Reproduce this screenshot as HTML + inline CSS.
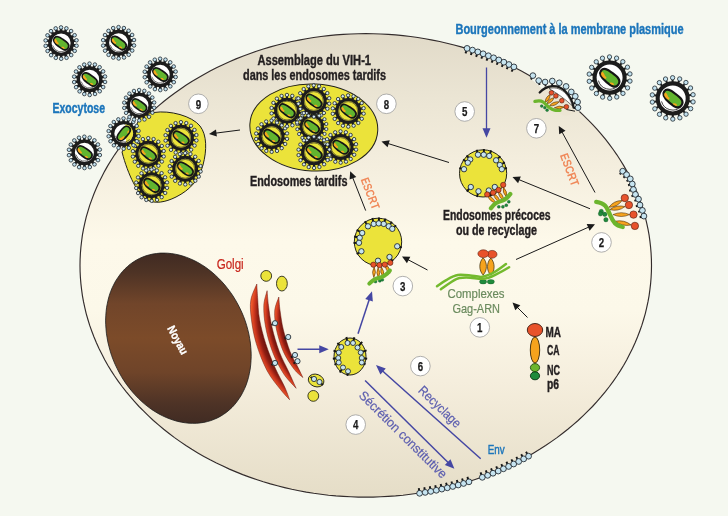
<!DOCTYPE html><html><head><meta charset="utf-8"><style>html,body{margin:0;padding:0;background:#f5f8f0}svg{display:block;will-change:transform}text{font-family:"Liberation Sans",sans-serif}</style></head><body>
<svg width="728" height="516" viewBox="0 0 728 516">
<defs>
<linearGradient id="cell" x1="0" y1="33" x2="0" y2="497" gradientUnits="userSpaceOnUse">
<stop offset="0" stop-color="#e1dac8"/><stop offset="0.14" stop-color="#ebe5d4"/><stop offset="0.30" stop-color="#f5efdf"/><stop offset="0.45" stop-color="#fdf9ea"/><stop offset="0.6" stop-color="#fcf8e9"/><stop offset="0.75" stop-color="#f5eedd"/><stop offset="1" stop-color="#e5ddc7"/>
</linearGradient>
<linearGradient id="nuc" x1="0" y1="252" x2="0" y2="424" gradientUnits="userSpaceOnUse">
<stop offset="0" stop-color="#3f2a22"/><stop offset="0.12" stop-color="#4e3325"/><stop offset="0.3" stop-color="#71452a"/><stop offset="0.5" stop-color="#7c4b29"/><stop offset="0.7" stop-color="#6f4429"/><stop offset="0.88" stop-color="#4e3326"/><stop offset="1" stop-color="#402b23"/>
</linearGradient>
<radialGradient id="golgi1" gradientUnits="userSpaceOnUse" cx="364.7" cy="314.25" r="113.64"><stop offset="0.9116" stop-color="#6e140d"/><stop offset="0.9425" stop-color="#8f1e12"/><stop offset="0.9691" stop-color="#c8341d"/><stop offset="1" stop-color="#f05a2b"/></radialGradient><radialGradient id="golgi2" gradientUnits="userSpaceOnUse" cx="371.5" cy="312.2" r="107.54"><stop offset="0.9299" stop-color="#6e140d"/><stop offset="0.9545" stop-color="#8f1e12"/><stop offset="0.9755" stop-color="#c8341d"/><stop offset="1" stop-color="#f05a2b"/></radialGradient><radialGradient id="golgi3" gradientUnits="userSpaceOnUse" cx="352.5" cy="318.3" r="77.7"><stop offset="0.9028" stop-color="#6e140d"/><stop offset="0.9369" stop-color="#8f1e12"/><stop offset="0.9660" stop-color="#c8341d"/><stop offset="1" stop-color="#f05a2b"/></radialGradient>
</defs>
<rect width="728" height="516" fill="#f5f8f0"/>
<path d="M651.5,265.4 L651.4,271.5 L651.1,277.5 L650.6,283.6 L649.9,289.6 L649.1,295.6 L648.0,301.7 L646.7,307.6 L645.3,313.6 L643.6,319.5 L641.8,325.4 L639.7,331.2 L637.5,337.0 L635.1,342.8 L632.5,348.5 L629.7,354.1 L626.8,359.7 L623.7,365.2 L620.4,370.6 L616.9,376.0 L613.2,381.3 L609.4,386.5 L605.4,391.6 L601.2,396.7 L596.9,401.6 L592.5,406.5 L587.8,411.2 L583.0,415.9 L578.1,420.5 L573.0,424.9 L567.8,429.3 L562.4,433.5 L557.0,437.6 L551.3,441.6 L545.6,445.5 L539.7,449.3 L533.7,452.9 L527.6,456.4 L521.4,459.8 L515.1,463.0 L508.6,466.1 L502.1,469.1 L495.5,471.9 L488.8,474.6 L482.0,477.1 L475.1,479.5 L468.2,481.8 L461.1,483.9 L454.1,485.8 L446.9,487.6 L439.7,489.3 L432.5,490.7 L425.2,492.1 L417.8,493.3 L410.5,494.3 L403.0,495.2 L395.6,495.9 L388.2,496.4 L380.7,496.8 L373.2,497.1 L365.8,497.1 L358.3,497.1 L350.8,496.8 L343.3,496.4 L335.9,495.9 L328.5,495.2 L321.0,494.3 L313.7,493.3 L306.3,492.1 L299.0,490.7 L291.8,489.3 L284.6,487.6 L277.4,485.8 L270.4,483.9 L263.3,481.8 L256.4,479.5 L249.5,477.1 L242.7,474.6 L236.0,471.9 L229.4,469.1 L222.9,466.1 L216.4,463.0 L210.1,459.8 L203.9,456.4 L197.8,452.9 L191.8,449.3 L185.9,445.5 L180.2,441.6 L174.5,437.6 L169.1,433.5 L163.7,429.3 L158.5,424.9 L153.4,420.5 L148.5,415.9 L143.7,411.2 L139.0,406.5 L134.6,401.6 L130.3,396.7 L126.1,391.6 L122.1,386.5 L118.3,381.3 L114.6,376.0 L111.1,370.6 L107.8,365.2 L104.7,359.7 L101.8,354.1 L99.0,348.5 L96.4,342.8 L94.0,337.0 L91.8,331.2 L89.7,325.4 L87.9,319.5 L86.2,313.6 L84.8,307.6 L83.5,301.7 L82.4,295.6 L81.6,289.6 L80.9,283.6 L80.4,277.5 L80.1,271.5 L80.0,265.4 L80.1,259.3 L80.4,253.3 L80.9,247.2 L81.6,241.2 L82.4,235.2 L83.5,229.1 L84.8,223.2 L86.2,217.2 L87.9,211.3 L89.7,205.4 L91.8,199.6 L94.0,193.8 L96.4,188.0 L99.0,182.3 L101.8,176.7 L104.7,171.1 L107.8,165.6 L111.1,160.2 L114.6,154.8 L118.3,149.5 L122.1,144.3 L126.1,139.2 L130.3,134.1 L134.6,129.2 L139.0,124.3 L143.7,119.6 L148.5,114.9 L153.4,110.3 L158.5,105.9 L163.7,101.5 L169.1,97.3 L174.5,93.2 L180.2,89.2 L185.9,85.3 L191.8,81.5 L197.8,77.9 L203.9,74.4 L210.1,71.0 L216.4,67.8 L222.9,64.7 L229.4,61.7 L236.0,58.9 L242.7,56.2 L249.5,53.7 L256.4,51.3 L263.3,49.0 L270.4,46.9 L277.4,45.0 L284.6,43.2 L291.8,41.5 L299.0,40.1 L306.3,38.7 L313.7,37.5 L321.0,36.5 L328.5,35.6 L335.9,34.9 L343.3,34.4 L350.8,34.0 L358.3,33.7 L365.7,33.6 L373.2,33.7 L380.7,34.0 L388.2,34.4 L395.6,34.9 L403.0,35.6 L410.5,36.5 L417.8,37.5 L425.2,38.7 L432.5,40.1 L439.7,41.5 L446.9,43.2 L454.1,45.0 L461.1,46.9 L468.2,49.0 L475.1,51.3 L482.0,53.7 L488.8,56.2 L495.5,58.9 L502.1,61.7 L508.6,64.7 L515.1,67.8 L521.4,71.0 L527.6,74.4 L533.7,77.9 L539.7,81.5 L545.6,85.3 L551.3,89.2 L557.0,93.2 L562.4,97.3 L567.8,101.5 L573.0,105.9 L578.1,110.3 L583.0,114.9 L587.8,119.6 L592.5,124.3 L596.9,129.2 L601.2,134.1 L605.4,139.2 L609.4,144.3 L613.2,149.5 L616.9,154.8 L620.4,160.2 L623.7,165.6 L626.8,171.1 L629.7,176.7 L632.5,182.3 L635.1,188.0 L637.5,193.8 L639.7,199.6 L641.8,205.4 L643.6,211.3 L645.3,217.2 L646.7,223.2 L648.0,229.1 L649.1,235.2 L649.9,241.2 L650.6,247.2 L651.1,253.3 L651.4,259.3Z" fill="url(#cell)" stroke="#332c2c" stroke-width="1.15"/>
<path d="M239.8,308.1 L241.8,312.3 L243.6,316.6 L245.2,320.9 L246.6,325.3 L247.8,329.7 L248.9,334.2 L249.7,338.7 L250.4,343.1 L250.8,347.6 L251.1,352.0 L251.2,356.3 L251.0,360.7 L250.7,364.9 L250.2,369.1 L249.4,373.2 L248.5,377.3 L247.4,381.2 L246.1,385.0 L244.6,388.6 L242.9,392.1 L241.1,395.5 L239.0,398.7 L236.8,401.8 L234.5,404.7 L232.0,407.4 L229.3,409.9 L226.6,412.2 L223.6,414.3 L220.6,416.2 L217.4,417.9 L214.2,419.3 L210.8,420.6 L207.3,421.6 L203.8,422.4 L200.2,422.9 L196.5,423.3 L192.8,423.3 L189.1,423.2 L185.3,422.8 L181.5,422.2 L177.7,421.4 L173.9,420.3 L170.1,419.0 L166.3,417.5 L162.6,415.8 L158.9,413.9 L155.2,411.7 L151.6,409.4 L148.1,406.8 L144.7,404.1 L141.4,401.2 L138.2,398.1 L135.0,394.8 L132.0,391.4 L129.2,387.9 L126.4,384.2 L123.8,380.4 L121.4,376.5 L119.1,372.4 L117.0,368.3 L115.0,364.1 L113.2,359.8 L111.6,355.5 L110.2,351.1 L109.0,346.7 L107.9,342.2 L107.1,337.7 L106.4,333.3 L106.0,328.8 L105.7,324.4 L105.6,320.1 L105.8,315.7 L106.1,311.5 L106.6,307.3 L107.4,303.2 L108.3,299.1 L109.4,295.2 L110.7,291.4 L112.2,287.8 L113.9,284.3 L115.7,280.9 L117.8,277.7 L120.0,274.6 L122.3,271.7 L124.8,269.0 L127.5,266.5 L130.2,264.2 L133.2,262.1 L136.2,260.2 L139.4,258.5 L142.6,257.1 L146.0,255.8 L149.5,254.8 L153.0,254.0 L156.6,253.5 L160.3,253.1 L164.0,253.1 L167.7,253.2 L171.5,253.6 L175.3,254.2 L179.1,255.0 L182.9,256.1 L186.7,257.4 L190.5,258.9 L194.2,260.6 L197.9,262.5 L201.6,264.7 L205.2,267.0 L208.7,269.6 L212.1,272.3 L215.4,275.2 L218.6,278.3 L221.8,281.6 L224.8,285.0 L227.6,288.5 L230.4,292.2 L233.0,296.0 L235.4,299.9 L237.7,304.0Z" fill="url(#nuc)" stroke="#1a1a1a" stroke-width="0.8"/>
<text transform="translate(177.8,340) rotate(62)" text-anchor="middle" font-size="11.5" font-weight="bold" fill="#fff" stroke="#fff" stroke-width="0.35" y="4" textLength="31" lengthAdjust="spacingAndGlyphs">Noyau</text>
<path d="M256.8,284.0 C255.8,286.7 251.7,294.3 250.8,300.2 C249.9,306.1 250.5,312.0 251.4,319.2 C252.3,326.4 253.7,335.0 256.3,343.6 C258.9,352.2 263.0,363.0 267.1,370.7 C271.2,378.4 276.9,384.9 280.7,389.7 C284.4,394.5 288.1,398.0 289.6,399.7 C288.8,397.6 287.1,392.3 284.7,387.0 C282.3,381.7 278.4,375.2 275.2,368.0 C272.0,360.8 268.3,351.7 265.7,343.6 C263.1,335.5 260.9,326.9 259.5,319.2 C258.1,311.5 258.1,303.4 257.6,297.5 C257.2,291.6 256.9,286.2 256.8,284.0 Z" fill="url(#golgi1)" stroke="#6a150e" stroke-width="0.5"/>
<path d="M267.1,290.7 C266.6,293.2 264.0,299.6 263.8,305.7 C263.6,311.8 264.2,319.6 265.7,327.3 C267.1,335.0 269.6,344.0 272.5,351.7 C275.4,359.4 279.5,367.3 283.4,373.4 C287.3,379.5 294.0,385.8 296.1,388.3 C294.9,385.6 291.6,378.1 288.8,372.0 C286.0,365.9 282.1,359.1 279.3,351.7 C276.5,344.2 273.8,335.0 272.0,327.3 C270.2,319.6 269.3,311.8 268.5,305.7 C267.7,299.6 267.3,293.2 267.1,290.7 Z" fill="url(#golgi2)" stroke="#6a150e" stroke-width="0.5"/>
<path d="M278.8,297.0 C278.1,299.3 275.1,305.5 274.7,311.0 C274.3,316.5 275.2,323.2 276.6,330.0 C278.1,336.8 280.5,345.1 283.4,351.7 C286.3,358.2 290.9,365.0 294.2,369.3 C297.4,373.6 301.4,376.1 302.9,377.5 C302.1,375.9 300.4,372.3 298.3,368.0 C296.2,363.7 292.6,358.0 290.1,351.7 C287.6,345.4 285.1,336.8 283.4,330.0 C281.7,323.2 280.9,316.5 280.1,311.0 C279.3,305.5 279.0,299.3 278.8,297.0 Z" fill="url(#golgi3)" stroke="#6a150e" stroke-width="0.5"/>
<circle cx="266.2" cy="275.9" r="5.4" fill="#ebe33a" stroke="#2a2a1a" stroke-width="0.9"/>
<ellipse cx="281.9" cy="283.6" rx="5.4" ry="7.4" fill="#ebe33a" stroke="#2a2a1a" stroke-width="0.9"/>
<ellipse cx="316.1" cy="380.5" rx="8" ry="6.2" fill="#ebe33a" stroke="#2a2a1a" stroke-width="0.9" transform="rotate(20 316.1 380.5)"/>
<circle cx="313.3" cy="395.9" r="5.4" fill="#ebe33a" stroke="#2a2a1a" stroke-width="0.9"/>
<line x1="275.00" y1="323.20" x2="271.50" y2="325.00" stroke="#151515" stroke-width="1.9"/><circle cx="275.00" cy="323.20" r="2.6" fill="#c6e4f0" stroke="#1c242a" stroke-width="0.85"/>
<line x1="288.20" y1="337.00" x2="284.50" y2="338.50" stroke="#151515" stroke-width="1.9"/><circle cx="288.20" cy="337.00" r="2.6" fill="#c6e4f0" stroke="#1c242a" stroke-width="0.85"/>
<line x1="295.00" y1="355.00" x2="291.00" y2="357.50" stroke="#151515" stroke-width="1.9"/><circle cx="295.00" cy="355.00" r="2.6" fill="#c6e4f0" stroke="#1c242a" stroke-width="0.85"/>
<line x1="297.50" y1="361.20" x2="293.50" y2="363.50" stroke="#151515" stroke-width="1.9"/><circle cx="297.50" cy="361.20" r="2.6" fill="#c6e4f0" stroke="#1c242a" stroke-width="0.85"/>
<line x1="275.00" y1="363.00" x2="271.50" y2="365.00" stroke="#151515" stroke-width="1.9"/><circle cx="275.00" cy="363.00" r="2.6" fill="#c6e4f0" stroke="#1c242a" stroke-width="0.85"/>
<line x1="314.00" y1="379.00" x2="310.50" y2="377.00" stroke="#151515" stroke-width="1.9"/><circle cx="314.00" cy="379.00" r="2.6" fill="#c6e4f0" stroke="#1c242a" stroke-width="0.85"/>
<line x1="319.50" y1="382.00" x2="323.00" y2="385.00" stroke="#151515" stroke-width="1.9"/><circle cx="319.50" cy="382.00" r="2.6" fill="#c6e4f0" stroke="#1c242a" stroke-width="0.85"/>
<text x="216.7" y="268.6" font-size="14" font-weight="normal" fill="#c8261c" stroke="#c8261c" stroke-width="0.2" text-anchor="start" textLength="27" lengthAdjust="spacingAndGlyphs" >Golgi</text>
<ellipse cx="350" cy="356.5" rx="16" ry="18.5" fill="#ebe33a" stroke="#22221a" stroke-width="1"/>
<line x1="347.50" y1="343.00" x2="346.40" y2="337.03" stroke="#151515" stroke-width="1.9"/><circle cx="347.50" cy="343.00" r="2.5" fill="#c6e4f0" stroke="#1c242a" stroke-width="0.85"/>
<line x1="353.00" y1="343.00" x2="354.28" y2="337.26" stroke="#151515" stroke-width="1.9"/><circle cx="353.00" cy="343.00" r="2.5" fill="#c6e4f0" stroke="#1c242a" stroke-width="0.85"/>
<line x1="341.25" y1="347.00" x2="337.46" y2="342.89" stroke="#151515" stroke-width="1.9"/><circle cx="341.25" cy="347.00" r="2.5" fill="#c6e4f0" stroke="#1c242a" stroke-width="0.85"/>
<line x1="338.75" y1="352.50" x2="333.49" y2="350.63" stroke="#151515" stroke-width="1.9"/><circle cx="338.75" cy="352.50" r="2.5" fill="#c6e4f0" stroke="#1c242a" stroke-width="0.85"/>
<line x1="338.25" y1="358.00" x2="332.85" y2="358.69" stroke="#151515" stroke-width="1.9"/><circle cx="338.25" cy="358.00" r="2.5" fill="#c6e4f0" stroke="#1c242a" stroke-width="0.85"/>
<line x1="338.75" y1="362.50" x2="334.49" y2="364.77" stroke="#151515" stroke-width="1.9"/><circle cx="338.75" cy="362.50" r="2.5" fill="#c6e4f0" stroke="#1c242a" stroke-width="0.85"/>
<line x1="343.00" y1="367.50" x2="339.77" y2="372.57" stroke="#151515" stroke-width="1.9"/><circle cx="343.00" cy="367.50" r="2.5" fill="#c6e4f0" stroke="#1c242a" stroke-width="0.85"/>
<line x1="348.00" y1="371.25" x2="347.38" y2="375.83" stroke="#151515" stroke-width="1.9"/><circle cx="348.00" cy="371.25" r="2.5" fill="#c6e4f0" stroke="#1c242a" stroke-width="0.85"/>
<line x1="357.50" y1="347.50" x2="362.18" y2="341.88" stroke="#151515" stroke-width="1.9"/><circle cx="357.50" cy="347.50" r="2.5" fill="#c6e4f0" stroke="#1c242a" stroke-width="0.85"/>
<line x1="360.75" y1="352.50" x2="366.57" y2="350.33" stroke="#151515" stroke-width="1.9"/><circle cx="360.75" cy="352.50" r="2.5" fill="#c6e4f0" stroke="#1c242a" stroke-width="0.85"/>
<line x1="361.75" y1="358.00" x2="367.15" y2="358.69" stroke="#151515" stroke-width="1.9"/><circle cx="361.75" cy="358.00" r="2.5" fill="#c6e4f0" stroke="#1c242a" stroke-width="0.85"/>
<line x1="361.75" y1="362.50" x2="365.50" y2="364.42" stroke="#151515" stroke-width="1.9"/><circle cx="361.75" cy="362.50" r="2.5" fill="#c6e4f0" stroke="#1c242a" stroke-width="0.85"/>
<circle cx="378" cy="241.9" r="23.7" fill="#ebe33a" stroke="#22221a" stroke-width="1"/>
<line x1="368.00" y1="226.30" x2="364.78" y2="221.27" stroke="#151515" stroke-width="1.9"/><circle cx="368.00" cy="226.30" r="2.7" fill="#c6e4f0" stroke="#1c242a" stroke-width="0.85"/>
<line x1="373.75" y1="223.90" x2="372.37" y2="218.06" stroke="#151515" stroke-width="1.9"/><circle cx="373.75" cy="223.90" r="2.7" fill="#c6e4f0" stroke="#1c242a" stroke-width="0.85"/>
<line x1="378.75" y1="223.40" x2="378.99" y2="217.42" stroke="#151515" stroke-width="1.9"/><circle cx="378.75" cy="223.40" r="2.7" fill="#c6e4f0" stroke="#1c242a" stroke-width="0.85"/>
<line x1="383.75" y1="223.90" x2="385.46" y2="218.56" stroke="#151515" stroke-width="1.9"/><circle cx="383.75" cy="223.90" r="2.7" fill="#c6e4f0" stroke="#1c242a" stroke-width="0.85"/>
<line x1="388.75" y1="226.30" x2="391.90" y2="221.73" stroke="#151515" stroke-width="1.9"/><circle cx="388.75" cy="226.30" r="2.7" fill="#c6e4f0" stroke="#1c242a" stroke-width="0.85"/>
<line x1="392.30" y1="228.80" x2="396.07" y2="225.35" stroke="#151515" stroke-width="1.9"/><circle cx="392.30" cy="228.80" r="2.7" fill="#c6e4f0" stroke="#1c242a" stroke-width="0.85"/>
<line x1="362.20" y1="233.00" x2="356.65" y2="229.88" stroke="#151515" stroke-width="1.9"/><circle cx="362.20" cy="233.00" r="2.7" fill="#c6e4f0" stroke="#1c242a" stroke-width="0.85"/>
<line x1="359.70" y1="237.80" x2="354.09" y2="236.54" stroke="#151515" stroke-width="1.9"/><circle cx="359.70" cy="237.80" r="2.7" fill="#c6e4f0" stroke="#1c242a" stroke-width="0.85"/>
<line x1="359.00" y1="242.80" x2="353.53" y2="243.06" stroke="#151515" stroke-width="1.9"/><circle cx="359.00" cy="242.80" r="2.7" fill="#c6e4f0" stroke="#1c242a" stroke-width="0.85"/>
<line x1="361.40" y1="251.30" x2="356.68" y2="253.97" stroke="#151515" stroke-width="1.9"/><circle cx="361.40" cy="251.30" r="2.7" fill="#c6e4f0" stroke="#1c242a" stroke-width="0.85"/>
<line x1="397.20" y1="246.30" x2="401.88" y2="247.37" stroke="#151515" stroke-width="1.9"/><circle cx="397.20" cy="246.30" r="2.7" fill="#c6e4f0" stroke="#1c242a" stroke-width="0.85"/>
<line x1="378.00" y1="260.75" x2="378.00" y2="266.40" stroke="#151515" stroke-width="1.9"/><circle cx="378.00" cy="260.75" r="2.7" fill="#c6e4f0" stroke="#1c242a" stroke-width="0.85"/>
<line x1="389.50" y1="257.00" x2="392.84" y2="261.39" stroke="#151515" stroke-width="1.9"/><circle cx="389.50" cy="257.00" r="2.7" fill="#c6e4f0" stroke="#1c242a" stroke-width="0.85"/>
<path d="M-5.25,0 Q0,-2.945 5.25,0 Q0,2.945 -5.25,0Z" fill="#f6a31d" stroke="#4a2a06" stroke-width="0.55" transform="translate(374.00,272.30) rotate(92)"/>
<path d="M-5.25,0 Q0,-2.945 5.25,0 Q0,2.945 -5.25,0Z" fill="#f6a31d" stroke="#4a2a06" stroke-width="0.55" transform="translate(378.30,272.70) rotate(88)"/>
<path d="M-5.25,0 Q0,-2.945 5.25,0 Q0,2.945 -5.25,0Z" fill="#f6a31d" stroke="#4a2a06" stroke-width="0.55" transform="translate(382.20,271.80) rotate(80)"/>
<path d="M-5.25,0 Q0,-2.945 5.25,0 Q0,2.945 -5.25,0Z" fill="#f6a31d" stroke="#4a2a06" stroke-width="0.55" transform="translate(387.60,268.80) rotate(64)"/>
<circle cx="373.40" cy="264.70" r="2.65" fill="#e8522b" stroke="#4a1a0c" stroke-width="0.6"/>
<circle cx="379.40" cy="265.10" r="2.65" fill="#e8522b" stroke="#4a1a0c" stroke-width="0.6"/>
<circle cx="384.80" cy="264.60" r="2.65" fill="#e8522b" stroke="#4a1a0c" stroke-width="0.6"/>
<circle cx="390.30" cy="262.80" r="2.65" fill="#e8522b" stroke="#4a1a0c" stroke-width="0.6"/>
<circle cx="375.5" cy="281.6" r="1.5" fill="#1f8a3c" stroke="#0d4a1c" stroke-width="0.35"/>
<circle cx="379.8" cy="280.8" r="1.5" fill="#1f8a3c" stroke="#0d4a1c" stroke-width="0.35"/>
<circle cx="382.3" cy="279.8" r="1.5" fill="#1f8a3c" stroke="#0d4a1c" stroke-width="0.35"/>
<path d="M369.3,283.7 C372,281 374.5,279 377.5,278.3 C380,277.7 382.5,277 384.5,275.6 C386.5,274.2 388.5,272.5 389.9,270.5" fill="none" stroke="#6cb52d" stroke-width="4" stroke-linecap="round"/>
<circle cx="483.1" cy="173.4" r="23.6" fill="#ebe33a" stroke="#22221a" stroke-width="1"/>
<line x1="478.00" y1="154.70" x2="476.68" y2="149.86" stroke="#151515" stroke-width="1.9"/><circle cx="478.00" cy="154.70" r="2.7" fill="#c6e4f0" stroke="#1c242a" stroke-width="0.85"/>
<line x1="483.75" y1="154.70" x2="483.95" y2="149.01" stroke="#151515" stroke-width="1.9"/><circle cx="483.75" cy="154.70" r="2.7" fill="#c6e4f0" stroke="#1c242a" stroke-width="0.85"/>
<line x1="489.25" y1="155.90" x2="491.19" y2="150.38" stroke="#151515" stroke-width="1.9"/><circle cx="489.25" cy="155.90" r="2.7" fill="#c6e4f0" stroke="#1c242a" stroke-width="0.85"/>
<line x1="470.20" y1="159.50" x2="466.50" y2="155.52" stroke="#151515" stroke-width="1.9"/><circle cx="470.20" cy="159.50" r="2.7" fill="#c6e4f0" stroke="#1c242a" stroke-width="0.85"/>
<line x1="467.80" y1="162.70" x2="463.10" y2="159.42" stroke="#151515" stroke-width="1.9"/><circle cx="467.80" cy="162.70" r="2.7" fill="#c6e4f0" stroke="#1c242a" stroke-width="0.85"/>
<line x1="464.00" y1="169.20" x2="459.27" y2="168.16" stroke="#151515" stroke-width="1.9"/><circle cx="464.00" cy="169.20" r="2.7" fill="#c6e4f0" stroke="#1c242a" stroke-width="0.85"/>
<line x1="496.10" y1="160.30" x2="500.29" y2="156.08" stroke="#151515" stroke-width="1.9"/><circle cx="496.10" cy="160.30" r="2.7" fill="#c6e4f0" stroke="#1c242a" stroke-width="0.85"/>
<line x1="499.80" y1="165.00" x2="504.90" y2="162.44" stroke="#151515" stroke-width="1.9"/><circle cx="499.80" cy="165.00" r="2.7" fill="#c6e4f0" stroke="#1c242a" stroke-width="0.85"/>
<line x1="501.80" y1="169.20" x2="506.91" y2="168.05" stroke="#151515" stroke-width="1.9"/><circle cx="501.80" cy="169.20" r="2.7" fill="#c6e4f0" stroke="#1c242a" stroke-width="0.85"/>
<line x1="470.80" y1="187.00" x2="466.73" y2="191.50" stroke="#151515" stroke-width="1.9"/><circle cx="470.80" cy="187.00" r="2.7" fill="#c6e4f0" stroke="#1c242a" stroke-width="0.85"/>
<line x1="478.50" y1="191.30" x2="477.03" y2="197.03" stroke="#151515" stroke-width="1.9"/><circle cx="478.50" cy="191.30" r="2.7" fill="#c6e4f0" stroke="#1c242a" stroke-width="0.85"/>
<line x1="488.80" y1="190.50" x2="490.82" y2="196.55" stroke="#151515" stroke-width="1.9"/><circle cx="488.80" cy="190.50" r="2.7" fill="#c6e4f0" stroke="#1c242a" stroke-width="0.85"/>
<line x1="494.80" y1="187.00" x2="499.01" y2="191.90" stroke="#151515" stroke-width="1.9"/><circle cx="494.80" cy="187.00" r="2.7" fill="#c6e4f0" stroke="#1c242a" stroke-width="0.85"/>
<path d="M-5.25,0 Q0,-2.945 5.25,0 Q0,2.945 -5.25,0Z" fill="#f6a31d" stroke="#4a2a06" stroke-width="0.55" transform="translate(491.70,199.40) rotate(42)"/>
<path d="M-5.25,0 Q0,-2.945 5.25,0 Q0,2.945 -5.25,0Z" fill="#f6a31d" stroke="#4a2a06" stroke-width="0.55" transform="translate(496.70,197.90) rotate(52)"/>
<path d="M-5.25,0 Q0,-2.945 5.25,0 Q0,2.945 -5.25,0Z" fill="#f6a31d" stroke="#4a2a06" stroke-width="0.55" transform="translate(501.00,195.90) rotate(60)"/>
<path d="M-5.25,0 Q0,-2.945 5.25,0 Q0,2.945 -5.25,0Z" fill="#f6a31d" stroke="#4a2a06" stroke-width="0.55" transform="translate(504.90,192.10) rotate(72)"/>
<circle cx="487.20" cy="194.40" r="2.65" fill="#e8522b" stroke="#4a1a0c" stroke-width="0.6"/>
<circle cx="493.10" cy="192.70" r="2.65" fill="#e8522b" stroke="#4a1a0c" stroke-width="0.6"/>
<circle cx="498.50" cy="189.90" r="2.65" fill="#e8522b" stroke="#4a1a0c" stroke-width="0.6"/>
<circle cx="503.20" cy="184.90" r="2.65" fill="#e8522b" stroke="#4a1a0c" stroke-width="0.6"/>
<circle cx="498.8" cy="206.8" r="1.5" fill="#1f8a3c" stroke="#0d4a1c" stroke-width="0.35"/>
<circle cx="502.9" cy="206.8" r="1.5" fill="#1f8a3c" stroke="#0d4a1c" stroke-width="0.35"/>
<circle cx="506.3" cy="205.2" r="1.5" fill="#1f8a3c" stroke="#0d4a1c" stroke-width="0.35"/>
<circle cx="508.8" cy="201.7" r="1.5" fill="#1f8a3c" stroke="#0d4a1c" stroke-width="0.35"/>
<path d="M490.9,208.3 C492.5,206 494,204 496.4,202.9 C499,201.7 501.5,201 504.1,199.8 C506.5,198.5 508.5,196.5 510.3,194" fill="none" stroke="#6cb52d" stroke-width="4.2" stroke-linecap="round"/>
<ellipse cx="313.8" cy="127.5" rx="64" ry="43.5" fill="#ebe33a" stroke="#22221a" stroke-width="1" transform="rotate(3 313.8 127.5)"/>
<g transform="translate(311.80,126.60) scale(0.968)">
<line x1="11.33" y1="1.95" x2="14.39" y2="2.47" stroke="#1c1c1c" stroke-width="2.1"/>
<line x1="9.99" y1="5.70" x2="12.68" y2="7.24" stroke="#1c1c1c" stroke-width="2.1"/>
<line x1="7.43" y1="8.78" x2="9.44" y2="11.14" stroke="#1c1c1c" stroke-width="2.1"/>
<line x1="3.98" y1="10.79" x2="5.06" y2="13.70" stroke="#1c1c1c" stroke-width="2.1"/>
<line x1="0.05" y1="11.50" x2="0.07" y2="14.60" stroke="#1c1c1c" stroke-width="2.1"/>
<line x1="-3.88" y1="10.82" x2="-4.93" y2="13.74" stroke="#1c1c1c" stroke-width="2.1"/>
<line x1="-7.35" y1="8.84" x2="-9.33" y2="11.23" stroke="#1c1c1c" stroke-width="2.1"/>
<line x1="-9.93" y1="5.80" x2="-12.61" y2="7.36" stroke="#1c1c1c" stroke-width="2.1"/>
<line x1="-11.32" y1="2.05" x2="-14.37" y2="2.60" stroke="#1c1c1c" stroke-width="2.1"/>
<line x1="-11.33" y1="-1.95" x2="-14.39" y2="-2.47" stroke="#1c1c1c" stroke-width="2.1"/>
<line x1="-9.99" y1="-5.70" x2="-12.68" y2="-7.24" stroke="#1c1c1c" stroke-width="2.1"/>
<line x1="-7.43" y1="-8.78" x2="-9.44" y2="-11.14" stroke="#1c1c1c" stroke-width="2.1"/>
<line x1="-3.98" y1="-10.79" x2="-5.06" y2="-13.70" stroke="#1c1c1c" stroke-width="2.1"/>
<line x1="-0.05" y1="-11.50" x2="-0.07" y2="-14.60" stroke="#1c1c1c" stroke-width="2.1"/>
<line x1="3.88" y1="-10.82" x2="4.93" y2="-13.74" stroke="#1c1c1c" stroke-width="2.1"/>
<line x1="7.35" y1="-8.84" x2="9.33" y2="-11.23" stroke="#1c1c1c" stroke-width="2.1"/>
<line x1="9.93" y1="-5.80" x2="12.61" y2="-7.36" stroke="#1c1c1c" stroke-width="2.1"/>
<line x1="11.32" y1="-2.05" x2="14.37" y2="-2.60" stroke="#1c1c1c" stroke-width="2.1"/>
<circle cx="14.98" cy="2.57" r="1.65" fill="#d4e6ee" stroke="#1e262c" stroke-width="0.8"/>
<circle cx="13.20" cy="7.54" r="1.65" fill="#d4e6ee" stroke="#1e262c" stroke-width="0.8"/>
<circle cx="9.82" cy="11.60" r="1.65" fill="#d4e6ee" stroke="#1e262c" stroke-width="0.8"/>
<circle cx="5.26" cy="14.26" r="1.65" fill="#d4e6ee" stroke="#1e262c" stroke-width="0.8"/>
<circle cx="0.07" cy="15.20" r="1.65" fill="#d4e6ee" stroke="#1e262c" stroke-width="0.8"/>
<circle cx="-5.13" cy="14.31" r="1.65" fill="#d4e6ee" stroke="#1e262c" stroke-width="0.8"/>
<circle cx="-9.72" cy="11.69" r="1.65" fill="#d4e6ee" stroke="#1e262c" stroke-width="0.8"/>
<circle cx="-13.13" cy="7.66" r="1.65" fill="#d4e6ee" stroke="#1e262c" stroke-width="0.8"/>
<circle cx="-14.96" cy="2.71" r="1.65" fill="#d4e6ee" stroke="#1e262c" stroke-width="0.8"/>
<circle cx="-14.98" cy="-2.57" r="1.65" fill="#d4e6ee" stroke="#1e262c" stroke-width="0.8"/>
<circle cx="-13.20" cy="-7.54" r="1.65" fill="#d4e6ee" stroke="#1e262c" stroke-width="0.8"/>
<circle cx="-9.82" cy="-11.60" r="1.65" fill="#d4e6ee" stroke="#1e262c" stroke-width="0.8"/>
<circle cx="-5.26" cy="-14.26" r="1.65" fill="#d4e6ee" stroke="#1e262c" stroke-width="0.8"/>
<circle cx="-0.07" cy="-15.20" r="1.65" fill="#d4e6ee" stroke="#1e262c" stroke-width="0.8"/>
<circle cx="5.13" cy="-14.31" r="1.65" fill="#d4e6ee" stroke="#1e262c" stroke-width="0.8"/>
<circle cx="9.72" cy="-11.69" r="1.65" fill="#d4e6ee" stroke="#1e262c" stroke-width="0.8"/>
<circle cx="13.13" cy="-7.66" r="1.65" fill="#d4e6ee" stroke="#1e262c" stroke-width="0.8"/>
<circle cx="14.96" cy="-2.71" r="1.65" fill="#d4e6ee" stroke="#1e262c" stroke-width="0.8"/>
<circle r="11.10" fill="#ebe33a" stroke="#1c1c1c" stroke-width="2.9"/>
<circle r="9.1" fill="none" stroke="#2a2a2a" stroke-width="0.6"/>
<g transform="rotate(35) scale(1.12)">
<path d="M-7.5,-0.3 C-7.6,-3.0 -4.5,-3.6 -1,-3.6 C3,-3.7 7.6,-3.9 7.6,0.2 C7.6,4.0 3.5,3.8 0,3.7 C-3.5,3.6 -7.4,3.0 -7.5,-0.3Z" fill="#62b52f" stroke="#151515" stroke-width="1.5"/>
<path d="M-6.6,0 C-5.5,-0.6 -4.2,0.4 -3,1.1 C-2,0.6 -1.2,1.4 -1.6,2.5 C-3,2.9 -4.5,2.7 -5.6,2.1 C-6.3,1.6 -6.6,0.8 -6.6,0Z" fill="#f7a61c"/>
<path d="M2.2,2.9 C3,1.4 4.2,1.2 5.5,2.0 C5,2.8 4,3.1 2.2,2.9Z" fill="#f7a61c"/>
</g></g>
<g transform="translate(271.60,136.20) scale(1.030)">
<line x1="11.33" y1="1.95" x2="14.39" y2="2.47" stroke="#1c1c1c" stroke-width="2.1"/>
<line x1="9.99" y1="5.70" x2="12.68" y2="7.24" stroke="#1c1c1c" stroke-width="2.1"/>
<line x1="7.43" y1="8.78" x2="9.44" y2="11.14" stroke="#1c1c1c" stroke-width="2.1"/>
<line x1="3.98" y1="10.79" x2="5.06" y2="13.70" stroke="#1c1c1c" stroke-width="2.1"/>
<line x1="0.05" y1="11.50" x2="0.07" y2="14.60" stroke="#1c1c1c" stroke-width="2.1"/>
<line x1="-3.88" y1="10.82" x2="-4.93" y2="13.74" stroke="#1c1c1c" stroke-width="2.1"/>
<line x1="-7.35" y1="8.84" x2="-9.33" y2="11.23" stroke="#1c1c1c" stroke-width="2.1"/>
<line x1="-9.93" y1="5.80" x2="-12.61" y2="7.36" stroke="#1c1c1c" stroke-width="2.1"/>
<line x1="-11.32" y1="2.05" x2="-14.37" y2="2.60" stroke="#1c1c1c" stroke-width="2.1"/>
<line x1="-11.33" y1="-1.95" x2="-14.39" y2="-2.47" stroke="#1c1c1c" stroke-width="2.1"/>
<line x1="-9.99" y1="-5.70" x2="-12.68" y2="-7.24" stroke="#1c1c1c" stroke-width="2.1"/>
<line x1="-7.43" y1="-8.78" x2="-9.44" y2="-11.14" stroke="#1c1c1c" stroke-width="2.1"/>
<line x1="-3.98" y1="-10.79" x2="-5.06" y2="-13.70" stroke="#1c1c1c" stroke-width="2.1"/>
<line x1="-0.05" y1="-11.50" x2="-0.07" y2="-14.60" stroke="#1c1c1c" stroke-width="2.1"/>
<line x1="3.88" y1="-10.82" x2="4.93" y2="-13.74" stroke="#1c1c1c" stroke-width="2.1"/>
<line x1="7.35" y1="-8.84" x2="9.33" y2="-11.23" stroke="#1c1c1c" stroke-width="2.1"/>
<line x1="9.93" y1="-5.80" x2="12.61" y2="-7.36" stroke="#1c1c1c" stroke-width="2.1"/>
<line x1="11.32" y1="-2.05" x2="14.37" y2="-2.60" stroke="#1c1c1c" stroke-width="2.1"/>
<circle cx="14.98" cy="2.57" r="1.65" fill="#d4e6ee" stroke="#1e262c" stroke-width="0.8"/>
<circle cx="13.20" cy="7.54" r="1.65" fill="#d4e6ee" stroke="#1e262c" stroke-width="0.8"/>
<circle cx="9.82" cy="11.60" r="1.65" fill="#d4e6ee" stroke="#1e262c" stroke-width="0.8"/>
<circle cx="5.26" cy="14.26" r="1.65" fill="#d4e6ee" stroke="#1e262c" stroke-width="0.8"/>
<circle cx="0.07" cy="15.20" r="1.65" fill="#d4e6ee" stroke="#1e262c" stroke-width="0.8"/>
<circle cx="-5.13" cy="14.31" r="1.65" fill="#d4e6ee" stroke="#1e262c" stroke-width="0.8"/>
<circle cx="-9.72" cy="11.69" r="1.65" fill="#d4e6ee" stroke="#1e262c" stroke-width="0.8"/>
<circle cx="-13.13" cy="7.66" r="1.65" fill="#d4e6ee" stroke="#1e262c" stroke-width="0.8"/>
<circle cx="-14.96" cy="2.71" r="1.65" fill="#d4e6ee" stroke="#1e262c" stroke-width="0.8"/>
<circle cx="-14.98" cy="-2.57" r="1.65" fill="#d4e6ee" stroke="#1e262c" stroke-width="0.8"/>
<circle cx="-13.20" cy="-7.54" r="1.65" fill="#d4e6ee" stroke="#1e262c" stroke-width="0.8"/>
<circle cx="-9.82" cy="-11.60" r="1.65" fill="#d4e6ee" stroke="#1e262c" stroke-width="0.8"/>
<circle cx="-5.26" cy="-14.26" r="1.65" fill="#d4e6ee" stroke="#1e262c" stroke-width="0.8"/>
<circle cx="-0.07" cy="-15.20" r="1.65" fill="#d4e6ee" stroke="#1e262c" stroke-width="0.8"/>
<circle cx="5.13" cy="-14.31" r="1.65" fill="#d4e6ee" stroke="#1e262c" stroke-width="0.8"/>
<circle cx="9.72" cy="-11.69" r="1.65" fill="#d4e6ee" stroke="#1e262c" stroke-width="0.8"/>
<circle cx="13.13" cy="-7.66" r="1.65" fill="#d4e6ee" stroke="#1e262c" stroke-width="0.8"/>
<circle cx="14.96" cy="-2.71" r="1.65" fill="#d4e6ee" stroke="#1e262c" stroke-width="0.8"/>
<circle r="11.10" fill="#ebe33a" stroke="#1c1c1c" stroke-width="2.9"/>
<circle r="9.1" fill="none" stroke="#2a2a2a" stroke-width="0.6"/>
<g transform="rotate(35) scale(1.12)">
<path d="M-7.5,-0.3 C-7.6,-3.0 -4.5,-3.6 -1,-3.6 C3,-3.7 7.6,-3.9 7.6,0.2 C7.6,4.0 3.5,3.8 0,3.7 C-3.5,3.6 -7.4,3.0 -7.5,-0.3Z" fill="#62b52f" stroke="#151515" stroke-width="1.5"/>
<path d="M-6.6,0 C-5.5,-0.6 -4.2,0.4 -3,1.1 C-2,0.6 -1.2,1.4 -1.6,2.5 C-3,2.9 -4.5,2.7 -5.6,2.1 C-6.3,1.6 -6.6,0.8 -6.6,0Z" fill="#f7a61c"/>
<path d="M2.2,2.9 C3,1.4 4.2,1.2 5.5,2.0 C5,2.8 4,3.1 2.2,2.9Z" fill="#f7a61c"/>
</g></g>
<g transform="translate(287.00,110.60) scale(1.030)">
<line x1="11.33" y1="1.95" x2="14.39" y2="2.47" stroke="#1c1c1c" stroke-width="2.1"/>
<line x1="9.99" y1="5.70" x2="12.68" y2="7.24" stroke="#1c1c1c" stroke-width="2.1"/>
<line x1="7.43" y1="8.78" x2="9.44" y2="11.14" stroke="#1c1c1c" stroke-width="2.1"/>
<line x1="3.98" y1="10.79" x2="5.06" y2="13.70" stroke="#1c1c1c" stroke-width="2.1"/>
<line x1="0.05" y1="11.50" x2="0.07" y2="14.60" stroke="#1c1c1c" stroke-width="2.1"/>
<line x1="-3.88" y1="10.82" x2="-4.93" y2="13.74" stroke="#1c1c1c" stroke-width="2.1"/>
<line x1="-7.35" y1="8.84" x2="-9.33" y2="11.23" stroke="#1c1c1c" stroke-width="2.1"/>
<line x1="-9.93" y1="5.80" x2="-12.61" y2="7.36" stroke="#1c1c1c" stroke-width="2.1"/>
<line x1="-11.32" y1="2.05" x2="-14.37" y2="2.60" stroke="#1c1c1c" stroke-width="2.1"/>
<line x1="-11.33" y1="-1.95" x2="-14.39" y2="-2.47" stroke="#1c1c1c" stroke-width="2.1"/>
<line x1="-9.99" y1="-5.70" x2="-12.68" y2="-7.24" stroke="#1c1c1c" stroke-width="2.1"/>
<line x1="-7.43" y1="-8.78" x2="-9.44" y2="-11.14" stroke="#1c1c1c" stroke-width="2.1"/>
<line x1="-3.98" y1="-10.79" x2="-5.06" y2="-13.70" stroke="#1c1c1c" stroke-width="2.1"/>
<line x1="-0.05" y1="-11.50" x2="-0.07" y2="-14.60" stroke="#1c1c1c" stroke-width="2.1"/>
<line x1="3.88" y1="-10.82" x2="4.93" y2="-13.74" stroke="#1c1c1c" stroke-width="2.1"/>
<line x1="7.35" y1="-8.84" x2="9.33" y2="-11.23" stroke="#1c1c1c" stroke-width="2.1"/>
<line x1="9.93" y1="-5.80" x2="12.61" y2="-7.36" stroke="#1c1c1c" stroke-width="2.1"/>
<line x1="11.32" y1="-2.05" x2="14.37" y2="-2.60" stroke="#1c1c1c" stroke-width="2.1"/>
<circle cx="14.98" cy="2.57" r="1.65" fill="#d4e6ee" stroke="#1e262c" stroke-width="0.8"/>
<circle cx="13.20" cy="7.54" r="1.65" fill="#d4e6ee" stroke="#1e262c" stroke-width="0.8"/>
<circle cx="9.82" cy="11.60" r="1.65" fill="#d4e6ee" stroke="#1e262c" stroke-width="0.8"/>
<circle cx="5.26" cy="14.26" r="1.65" fill="#d4e6ee" stroke="#1e262c" stroke-width="0.8"/>
<circle cx="0.07" cy="15.20" r="1.65" fill="#d4e6ee" stroke="#1e262c" stroke-width="0.8"/>
<circle cx="-5.13" cy="14.31" r="1.65" fill="#d4e6ee" stroke="#1e262c" stroke-width="0.8"/>
<circle cx="-9.72" cy="11.69" r="1.65" fill="#d4e6ee" stroke="#1e262c" stroke-width="0.8"/>
<circle cx="-13.13" cy="7.66" r="1.65" fill="#d4e6ee" stroke="#1e262c" stroke-width="0.8"/>
<circle cx="-14.96" cy="2.71" r="1.65" fill="#d4e6ee" stroke="#1e262c" stroke-width="0.8"/>
<circle cx="-14.98" cy="-2.57" r="1.65" fill="#d4e6ee" stroke="#1e262c" stroke-width="0.8"/>
<circle cx="-13.20" cy="-7.54" r="1.65" fill="#d4e6ee" stroke="#1e262c" stroke-width="0.8"/>
<circle cx="-9.82" cy="-11.60" r="1.65" fill="#d4e6ee" stroke="#1e262c" stroke-width="0.8"/>
<circle cx="-5.26" cy="-14.26" r="1.65" fill="#d4e6ee" stroke="#1e262c" stroke-width="0.8"/>
<circle cx="-0.07" cy="-15.20" r="1.65" fill="#d4e6ee" stroke="#1e262c" stroke-width="0.8"/>
<circle cx="5.13" cy="-14.31" r="1.65" fill="#d4e6ee" stroke="#1e262c" stroke-width="0.8"/>
<circle cx="9.72" cy="-11.69" r="1.65" fill="#d4e6ee" stroke="#1e262c" stroke-width="0.8"/>
<circle cx="13.13" cy="-7.66" r="1.65" fill="#d4e6ee" stroke="#1e262c" stroke-width="0.8"/>
<circle cx="14.96" cy="-2.71" r="1.65" fill="#d4e6ee" stroke="#1e262c" stroke-width="0.8"/>
<circle r="11.10" fill="#ebe33a" stroke="#1c1c1c" stroke-width="2.9"/>
<circle r="9.1" fill="none" stroke="#2a2a2a" stroke-width="0.6"/>
<g transform="rotate(35) scale(1.12)">
<path d="M-7.5,-0.3 C-7.6,-3.0 -4.5,-3.6 -1,-3.6 C3,-3.7 7.6,-3.9 7.6,0.2 C7.6,4.0 3.5,3.8 0,3.7 C-3.5,3.6 -7.4,3.0 -7.5,-0.3Z" fill="#62b52f" stroke="#151515" stroke-width="1.5"/>
<path d="M-6.6,0 C-5.5,-0.6 -4.2,0.4 -3,1.1 C-2,0.6 -1.2,1.4 -1.6,2.5 C-3,2.9 -4.5,2.7 -5.6,2.1 C-6.3,1.6 -6.6,0.8 -6.6,0Z" fill="#f7a61c"/>
<path d="M2.2,2.9 C3,1.4 4.2,1.2 5.5,2.0 C5,2.8 4,3.1 2.2,2.9Z" fill="#f7a61c"/>
</g></g>
<g transform="translate(313.80,101.00) scale(1.030)">
<line x1="11.33" y1="1.95" x2="14.39" y2="2.47" stroke="#1c1c1c" stroke-width="2.1"/>
<line x1="9.99" y1="5.70" x2="12.68" y2="7.24" stroke="#1c1c1c" stroke-width="2.1"/>
<line x1="7.43" y1="8.78" x2="9.44" y2="11.14" stroke="#1c1c1c" stroke-width="2.1"/>
<line x1="3.98" y1="10.79" x2="5.06" y2="13.70" stroke="#1c1c1c" stroke-width="2.1"/>
<line x1="0.05" y1="11.50" x2="0.07" y2="14.60" stroke="#1c1c1c" stroke-width="2.1"/>
<line x1="-3.88" y1="10.82" x2="-4.93" y2="13.74" stroke="#1c1c1c" stroke-width="2.1"/>
<line x1="-7.35" y1="8.84" x2="-9.33" y2="11.23" stroke="#1c1c1c" stroke-width="2.1"/>
<line x1="-9.93" y1="5.80" x2="-12.61" y2="7.36" stroke="#1c1c1c" stroke-width="2.1"/>
<line x1="-11.32" y1="2.05" x2="-14.37" y2="2.60" stroke="#1c1c1c" stroke-width="2.1"/>
<line x1="-11.33" y1="-1.95" x2="-14.39" y2="-2.47" stroke="#1c1c1c" stroke-width="2.1"/>
<line x1="-9.99" y1="-5.70" x2="-12.68" y2="-7.24" stroke="#1c1c1c" stroke-width="2.1"/>
<line x1="-7.43" y1="-8.78" x2="-9.44" y2="-11.14" stroke="#1c1c1c" stroke-width="2.1"/>
<line x1="-3.98" y1="-10.79" x2="-5.06" y2="-13.70" stroke="#1c1c1c" stroke-width="2.1"/>
<line x1="-0.05" y1="-11.50" x2="-0.07" y2="-14.60" stroke="#1c1c1c" stroke-width="2.1"/>
<line x1="3.88" y1="-10.82" x2="4.93" y2="-13.74" stroke="#1c1c1c" stroke-width="2.1"/>
<line x1="7.35" y1="-8.84" x2="9.33" y2="-11.23" stroke="#1c1c1c" stroke-width="2.1"/>
<line x1="9.93" y1="-5.80" x2="12.61" y2="-7.36" stroke="#1c1c1c" stroke-width="2.1"/>
<line x1="11.32" y1="-2.05" x2="14.37" y2="-2.60" stroke="#1c1c1c" stroke-width="2.1"/>
<circle cx="14.98" cy="2.57" r="1.65" fill="#d4e6ee" stroke="#1e262c" stroke-width="0.8"/>
<circle cx="13.20" cy="7.54" r="1.65" fill="#d4e6ee" stroke="#1e262c" stroke-width="0.8"/>
<circle cx="9.82" cy="11.60" r="1.65" fill="#d4e6ee" stroke="#1e262c" stroke-width="0.8"/>
<circle cx="5.26" cy="14.26" r="1.65" fill="#d4e6ee" stroke="#1e262c" stroke-width="0.8"/>
<circle cx="0.07" cy="15.20" r="1.65" fill="#d4e6ee" stroke="#1e262c" stroke-width="0.8"/>
<circle cx="-5.13" cy="14.31" r="1.65" fill="#d4e6ee" stroke="#1e262c" stroke-width="0.8"/>
<circle cx="-9.72" cy="11.69" r="1.65" fill="#d4e6ee" stroke="#1e262c" stroke-width="0.8"/>
<circle cx="-13.13" cy="7.66" r="1.65" fill="#d4e6ee" stroke="#1e262c" stroke-width="0.8"/>
<circle cx="-14.96" cy="2.71" r="1.65" fill="#d4e6ee" stroke="#1e262c" stroke-width="0.8"/>
<circle cx="-14.98" cy="-2.57" r="1.65" fill="#d4e6ee" stroke="#1e262c" stroke-width="0.8"/>
<circle cx="-13.20" cy="-7.54" r="1.65" fill="#d4e6ee" stroke="#1e262c" stroke-width="0.8"/>
<circle cx="-9.82" cy="-11.60" r="1.65" fill="#d4e6ee" stroke="#1e262c" stroke-width="0.8"/>
<circle cx="-5.26" cy="-14.26" r="1.65" fill="#d4e6ee" stroke="#1e262c" stroke-width="0.8"/>
<circle cx="-0.07" cy="-15.20" r="1.65" fill="#d4e6ee" stroke="#1e262c" stroke-width="0.8"/>
<circle cx="5.13" cy="-14.31" r="1.65" fill="#d4e6ee" stroke="#1e262c" stroke-width="0.8"/>
<circle cx="9.72" cy="-11.69" r="1.65" fill="#d4e6ee" stroke="#1e262c" stroke-width="0.8"/>
<circle cx="13.13" cy="-7.66" r="1.65" fill="#d4e6ee" stroke="#1e262c" stroke-width="0.8"/>
<circle cx="14.96" cy="-2.71" r="1.65" fill="#d4e6ee" stroke="#1e262c" stroke-width="0.8"/>
<circle r="11.10" fill="#ebe33a" stroke="#1c1c1c" stroke-width="2.9"/>
<circle r="9.1" fill="none" stroke="#2a2a2a" stroke-width="0.6"/>
<g transform="rotate(35) scale(1.12)">
<path d="M-7.5,-0.3 C-7.6,-3.0 -4.5,-3.6 -1,-3.6 C3,-3.7 7.6,-3.9 7.6,0.2 C7.6,4.0 3.5,3.8 0,3.7 C-3.5,3.6 -7.4,3.0 -7.5,-0.3Z" fill="#62b52f" stroke="#151515" stroke-width="1.5"/>
<path d="M-6.6,0 C-5.5,-0.6 -4.2,0.4 -3,1.1 C-2,0.6 -1.2,1.4 -1.6,2.5 C-3,2.9 -4.5,2.7 -5.6,2.1 C-6.3,1.6 -6.6,0.8 -6.6,0Z" fill="#f7a61c"/>
<path d="M2.2,2.9 C3,1.4 4.2,1.2 5.5,2.0 C5,2.8 4,3.1 2.2,2.9Z" fill="#f7a61c"/>
</g></g>
<g transform="translate(348.20,111.00) scale(1.030)">
<line x1="11.33" y1="1.95" x2="14.39" y2="2.47" stroke="#1c1c1c" stroke-width="2.1"/>
<line x1="9.99" y1="5.70" x2="12.68" y2="7.24" stroke="#1c1c1c" stroke-width="2.1"/>
<line x1="7.43" y1="8.78" x2="9.44" y2="11.14" stroke="#1c1c1c" stroke-width="2.1"/>
<line x1="3.98" y1="10.79" x2="5.06" y2="13.70" stroke="#1c1c1c" stroke-width="2.1"/>
<line x1="0.05" y1="11.50" x2="0.07" y2="14.60" stroke="#1c1c1c" stroke-width="2.1"/>
<line x1="-3.88" y1="10.82" x2="-4.93" y2="13.74" stroke="#1c1c1c" stroke-width="2.1"/>
<line x1="-7.35" y1="8.84" x2="-9.33" y2="11.23" stroke="#1c1c1c" stroke-width="2.1"/>
<line x1="-9.93" y1="5.80" x2="-12.61" y2="7.36" stroke="#1c1c1c" stroke-width="2.1"/>
<line x1="-11.32" y1="2.05" x2="-14.37" y2="2.60" stroke="#1c1c1c" stroke-width="2.1"/>
<line x1="-11.33" y1="-1.95" x2="-14.39" y2="-2.47" stroke="#1c1c1c" stroke-width="2.1"/>
<line x1="-9.99" y1="-5.70" x2="-12.68" y2="-7.24" stroke="#1c1c1c" stroke-width="2.1"/>
<line x1="-7.43" y1="-8.78" x2="-9.44" y2="-11.14" stroke="#1c1c1c" stroke-width="2.1"/>
<line x1="-3.98" y1="-10.79" x2="-5.06" y2="-13.70" stroke="#1c1c1c" stroke-width="2.1"/>
<line x1="-0.05" y1="-11.50" x2="-0.07" y2="-14.60" stroke="#1c1c1c" stroke-width="2.1"/>
<line x1="3.88" y1="-10.82" x2="4.93" y2="-13.74" stroke="#1c1c1c" stroke-width="2.1"/>
<line x1="7.35" y1="-8.84" x2="9.33" y2="-11.23" stroke="#1c1c1c" stroke-width="2.1"/>
<line x1="9.93" y1="-5.80" x2="12.61" y2="-7.36" stroke="#1c1c1c" stroke-width="2.1"/>
<line x1="11.32" y1="-2.05" x2="14.37" y2="-2.60" stroke="#1c1c1c" stroke-width="2.1"/>
<circle cx="14.98" cy="2.57" r="1.65" fill="#d4e6ee" stroke="#1e262c" stroke-width="0.8"/>
<circle cx="13.20" cy="7.54" r="1.65" fill="#d4e6ee" stroke="#1e262c" stroke-width="0.8"/>
<circle cx="9.82" cy="11.60" r="1.65" fill="#d4e6ee" stroke="#1e262c" stroke-width="0.8"/>
<circle cx="5.26" cy="14.26" r="1.65" fill="#d4e6ee" stroke="#1e262c" stroke-width="0.8"/>
<circle cx="0.07" cy="15.20" r="1.65" fill="#d4e6ee" stroke="#1e262c" stroke-width="0.8"/>
<circle cx="-5.13" cy="14.31" r="1.65" fill="#d4e6ee" stroke="#1e262c" stroke-width="0.8"/>
<circle cx="-9.72" cy="11.69" r="1.65" fill="#d4e6ee" stroke="#1e262c" stroke-width="0.8"/>
<circle cx="-13.13" cy="7.66" r="1.65" fill="#d4e6ee" stroke="#1e262c" stroke-width="0.8"/>
<circle cx="-14.96" cy="2.71" r="1.65" fill="#d4e6ee" stroke="#1e262c" stroke-width="0.8"/>
<circle cx="-14.98" cy="-2.57" r="1.65" fill="#d4e6ee" stroke="#1e262c" stroke-width="0.8"/>
<circle cx="-13.20" cy="-7.54" r="1.65" fill="#d4e6ee" stroke="#1e262c" stroke-width="0.8"/>
<circle cx="-9.82" cy="-11.60" r="1.65" fill="#d4e6ee" stroke="#1e262c" stroke-width="0.8"/>
<circle cx="-5.26" cy="-14.26" r="1.65" fill="#d4e6ee" stroke="#1e262c" stroke-width="0.8"/>
<circle cx="-0.07" cy="-15.20" r="1.65" fill="#d4e6ee" stroke="#1e262c" stroke-width="0.8"/>
<circle cx="5.13" cy="-14.31" r="1.65" fill="#d4e6ee" stroke="#1e262c" stroke-width="0.8"/>
<circle cx="9.72" cy="-11.69" r="1.65" fill="#d4e6ee" stroke="#1e262c" stroke-width="0.8"/>
<circle cx="13.13" cy="-7.66" r="1.65" fill="#d4e6ee" stroke="#1e262c" stroke-width="0.8"/>
<circle cx="14.96" cy="-2.71" r="1.65" fill="#d4e6ee" stroke="#1e262c" stroke-width="0.8"/>
<circle r="11.10" fill="#ebe33a" stroke="#1c1c1c" stroke-width="2.9"/>
<circle r="9.1" fill="none" stroke="#2a2a2a" stroke-width="0.6"/>
<g transform="rotate(35) scale(1.12)">
<path d="M-7.5,-0.3 C-7.6,-3.0 -4.5,-3.6 -1,-3.6 C3,-3.7 7.6,-3.9 7.6,0.2 C7.6,4.0 3.5,3.8 0,3.7 C-3.5,3.6 -7.4,3.0 -7.5,-0.3Z" fill="#62b52f" stroke="#151515" stroke-width="1.5"/>
<path d="M-6.6,0 C-5.5,-0.6 -4.2,0.4 -3,1.1 C-2,0.6 -1.2,1.4 -1.6,2.5 C-3,2.9 -4.5,2.7 -5.6,2.1 C-6.3,1.6 -6.6,0.8 -6.6,0Z" fill="#f7a61c"/>
<path d="M2.2,2.9 C3,1.4 4.2,1.2 5.5,2.0 C5,2.8 4,3.1 2.2,2.9Z" fill="#f7a61c"/>
</g></g>
<g transform="translate(340.60,147.00) scale(1.030)">
<line x1="11.33" y1="1.95" x2="14.39" y2="2.47" stroke="#1c1c1c" stroke-width="2.1"/>
<line x1="9.99" y1="5.70" x2="12.68" y2="7.24" stroke="#1c1c1c" stroke-width="2.1"/>
<line x1="7.43" y1="8.78" x2="9.44" y2="11.14" stroke="#1c1c1c" stroke-width="2.1"/>
<line x1="3.98" y1="10.79" x2="5.06" y2="13.70" stroke="#1c1c1c" stroke-width="2.1"/>
<line x1="0.05" y1="11.50" x2="0.07" y2="14.60" stroke="#1c1c1c" stroke-width="2.1"/>
<line x1="-3.88" y1="10.82" x2="-4.93" y2="13.74" stroke="#1c1c1c" stroke-width="2.1"/>
<line x1="-7.35" y1="8.84" x2="-9.33" y2="11.23" stroke="#1c1c1c" stroke-width="2.1"/>
<line x1="-9.93" y1="5.80" x2="-12.61" y2="7.36" stroke="#1c1c1c" stroke-width="2.1"/>
<line x1="-11.32" y1="2.05" x2="-14.37" y2="2.60" stroke="#1c1c1c" stroke-width="2.1"/>
<line x1="-11.33" y1="-1.95" x2="-14.39" y2="-2.47" stroke="#1c1c1c" stroke-width="2.1"/>
<line x1="-9.99" y1="-5.70" x2="-12.68" y2="-7.24" stroke="#1c1c1c" stroke-width="2.1"/>
<line x1="-7.43" y1="-8.78" x2="-9.44" y2="-11.14" stroke="#1c1c1c" stroke-width="2.1"/>
<line x1="-3.98" y1="-10.79" x2="-5.06" y2="-13.70" stroke="#1c1c1c" stroke-width="2.1"/>
<line x1="-0.05" y1="-11.50" x2="-0.07" y2="-14.60" stroke="#1c1c1c" stroke-width="2.1"/>
<line x1="3.88" y1="-10.82" x2="4.93" y2="-13.74" stroke="#1c1c1c" stroke-width="2.1"/>
<line x1="7.35" y1="-8.84" x2="9.33" y2="-11.23" stroke="#1c1c1c" stroke-width="2.1"/>
<line x1="9.93" y1="-5.80" x2="12.61" y2="-7.36" stroke="#1c1c1c" stroke-width="2.1"/>
<line x1="11.32" y1="-2.05" x2="14.37" y2="-2.60" stroke="#1c1c1c" stroke-width="2.1"/>
<circle cx="14.98" cy="2.57" r="1.65" fill="#d4e6ee" stroke="#1e262c" stroke-width="0.8"/>
<circle cx="13.20" cy="7.54" r="1.65" fill="#d4e6ee" stroke="#1e262c" stroke-width="0.8"/>
<circle cx="9.82" cy="11.60" r="1.65" fill="#d4e6ee" stroke="#1e262c" stroke-width="0.8"/>
<circle cx="5.26" cy="14.26" r="1.65" fill="#d4e6ee" stroke="#1e262c" stroke-width="0.8"/>
<circle cx="0.07" cy="15.20" r="1.65" fill="#d4e6ee" stroke="#1e262c" stroke-width="0.8"/>
<circle cx="-5.13" cy="14.31" r="1.65" fill="#d4e6ee" stroke="#1e262c" stroke-width="0.8"/>
<circle cx="-9.72" cy="11.69" r="1.65" fill="#d4e6ee" stroke="#1e262c" stroke-width="0.8"/>
<circle cx="-13.13" cy="7.66" r="1.65" fill="#d4e6ee" stroke="#1e262c" stroke-width="0.8"/>
<circle cx="-14.96" cy="2.71" r="1.65" fill="#d4e6ee" stroke="#1e262c" stroke-width="0.8"/>
<circle cx="-14.98" cy="-2.57" r="1.65" fill="#d4e6ee" stroke="#1e262c" stroke-width="0.8"/>
<circle cx="-13.20" cy="-7.54" r="1.65" fill="#d4e6ee" stroke="#1e262c" stroke-width="0.8"/>
<circle cx="-9.82" cy="-11.60" r="1.65" fill="#d4e6ee" stroke="#1e262c" stroke-width="0.8"/>
<circle cx="-5.26" cy="-14.26" r="1.65" fill="#d4e6ee" stroke="#1e262c" stroke-width="0.8"/>
<circle cx="-0.07" cy="-15.20" r="1.65" fill="#d4e6ee" stroke="#1e262c" stroke-width="0.8"/>
<circle cx="5.13" cy="-14.31" r="1.65" fill="#d4e6ee" stroke="#1e262c" stroke-width="0.8"/>
<circle cx="9.72" cy="-11.69" r="1.65" fill="#d4e6ee" stroke="#1e262c" stroke-width="0.8"/>
<circle cx="13.13" cy="-7.66" r="1.65" fill="#d4e6ee" stroke="#1e262c" stroke-width="0.8"/>
<circle cx="14.96" cy="-2.71" r="1.65" fill="#d4e6ee" stroke="#1e262c" stroke-width="0.8"/>
<circle r="11.10" fill="#ebe33a" stroke="#1c1c1c" stroke-width="2.9"/>
<circle r="9.1" fill="none" stroke="#2a2a2a" stroke-width="0.6"/>
<g transform="rotate(35) scale(1.12)">
<path d="M-7.5,-0.3 C-7.6,-3.0 -4.5,-3.6 -1,-3.6 C3,-3.7 7.6,-3.9 7.6,0.2 C7.6,4.0 3.5,3.8 0,3.7 C-3.5,3.6 -7.4,3.0 -7.5,-0.3Z" fill="#62b52f" stroke="#151515" stroke-width="1.5"/>
<path d="M-6.6,0 C-5.5,-0.6 -4.2,0.4 -3,1.1 C-2,0.6 -1.2,1.4 -1.6,2.5 C-3,2.9 -4.5,2.7 -5.6,2.1 C-6.3,1.6 -6.6,0.8 -6.6,0Z" fill="#f7a61c"/>
<path d="M2.2,2.9 C3,1.4 4.2,1.2 5.5,2.0 C5,2.8 4,3.1 2.2,2.9Z" fill="#f7a61c"/>
</g></g>
<g transform="translate(314.00,152.30) scale(1.030)">
<line x1="11.33" y1="1.95" x2="14.39" y2="2.47" stroke="#1c1c1c" stroke-width="2.1"/>
<line x1="9.99" y1="5.70" x2="12.68" y2="7.24" stroke="#1c1c1c" stroke-width="2.1"/>
<line x1="7.43" y1="8.78" x2="9.44" y2="11.14" stroke="#1c1c1c" stroke-width="2.1"/>
<line x1="3.98" y1="10.79" x2="5.06" y2="13.70" stroke="#1c1c1c" stroke-width="2.1"/>
<line x1="0.05" y1="11.50" x2="0.07" y2="14.60" stroke="#1c1c1c" stroke-width="2.1"/>
<line x1="-3.88" y1="10.82" x2="-4.93" y2="13.74" stroke="#1c1c1c" stroke-width="2.1"/>
<line x1="-7.35" y1="8.84" x2="-9.33" y2="11.23" stroke="#1c1c1c" stroke-width="2.1"/>
<line x1="-9.93" y1="5.80" x2="-12.61" y2="7.36" stroke="#1c1c1c" stroke-width="2.1"/>
<line x1="-11.32" y1="2.05" x2="-14.37" y2="2.60" stroke="#1c1c1c" stroke-width="2.1"/>
<line x1="-11.33" y1="-1.95" x2="-14.39" y2="-2.47" stroke="#1c1c1c" stroke-width="2.1"/>
<line x1="-9.99" y1="-5.70" x2="-12.68" y2="-7.24" stroke="#1c1c1c" stroke-width="2.1"/>
<line x1="-7.43" y1="-8.78" x2="-9.44" y2="-11.14" stroke="#1c1c1c" stroke-width="2.1"/>
<line x1="-3.98" y1="-10.79" x2="-5.06" y2="-13.70" stroke="#1c1c1c" stroke-width="2.1"/>
<line x1="-0.05" y1="-11.50" x2="-0.07" y2="-14.60" stroke="#1c1c1c" stroke-width="2.1"/>
<line x1="3.88" y1="-10.82" x2="4.93" y2="-13.74" stroke="#1c1c1c" stroke-width="2.1"/>
<line x1="7.35" y1="-8.84" x2="9.33" y2="-11.23" stroke="#1c1c1c" stroke-width="2.1"/>
<line x1="9.93" y1="-5.80" x2="12.61" y2="-7.36" stroke="#1c1c1c" stroke-width="2.1"/>
<line x1="11.32" y1="-2.05" x2="14.37" y2="-2.60" stroke="#1c1c1c" stroke-width="2.1"/>
<circle cx="14.98" cy="2.57" r="1.65" fill="#d4e6ee" stroke="#1e262c" stroke-width="0.8"/>
<circle cx="13.20" cy="7.54" r="1.65" fill="#d4e6ee" stroke="#1e262c" stroke-width="0.8"/>
<circle cx="9.82" cy="11.60" r="1.65" fill="#d4e6ee" stroke="#1e262c" stroke-width="0.8"/>
<circle cx="5.26" cy="14.26" r="1.65" fill="#d4e6ee" stroke="#1e262c" stroke-width="0.8"/>
<circle cx="0.07" cy="15.20" r="1.65" fill="#d4e6ee" stroke="#1e262c" stroke-width="0.8"/>
<circle cx="-5.13" cy="14.31" r="1.65" fill="#d4e6ee" stroke="#1e262c" stroke-width="0.8"/>
<circle cx="-9.72" cy="11.69" r="1.65" fill="#d4e6ee" stroke="#1e262c" stroke-width="0.8"/>
<circle cx="-13.13" cy="7.66" r="1.65" fill="#d4e6ee" stroke="#1e262c" stroke-width="0.8"/>
<circle cx="-14.96" cy="2.71" r="1.65" fill="#d4e6ee" stroke="#1e262c" stroke-width="0.8"/>
<circle cx="-14.98" cy="-2.57" r="1.65" fill="#d4e6ee" stroke="#1e262c" stroke-width="0.8"/>
<circle cx="-13.20" cy="-7.54" r="1.65" fill="#d4e6ee" stroke="#1e262c" stroke-width="0.8"/>
<circle cx="-9.82" cy="-11.60" r="1.65" fill="#d4e6ee" stroke="#1e262c" stroke-width="0.8"/>
<circle cx="-5.26" cy="-14.26" r="1.65" fill="#d4e6ee" stroke="#1e262c" stroke-width="0.8"/>
<circle cx="-0.07" cy="-15.20" r="1.65" fill="#d4e6ee" stroke="#1e262c" stroke-width="0.8"/>
<circle cx="5.13" cy="-14.31" r="1.65" fill="#d4e6ee" stroke="#1e262c" stroke-width="0.8"/>
<circle cx="9.72" cy="-11.69" r="1.65" fill="#d4e6ee" stroke="#1e262c" stroke-width="0.8"/>
<circle cx="13.13" cy="-7.66" r="1.65" fill="#d4e6ee" stroke="#1e262c" stroke-width="0.8"/>
<circle cx="14.96" cy="-2.71" r="1.65" fill="#d4e6ee" stroke="#1e262c" stroke-width="0.8"/>
<circle r="11.10" fill="#ebe33a" stroke="#1c1c1c" stroke-width="2.9"/>
<circle r="9.1" fill="none" stroke="#2a2a2a" stroke-width="0.6"/>
<g transform="rotate(35) scale(1.12)">
<path d="M-7.5,-0.3 C-7.6,-3.0 -4.5,-3.6 -1,-3.6 C3,-3.7 7.6,-3.9 7.6,0.2 C7.6,4.0 3.5,3.8 0,3.7 C-3.5,3.6 -7.4,3.0 -7.5,-0.3Z" fill="#62b52f" stroke="#151515" stroke-width="1.5"/>
<path d="M-6.6,0 C-5.5,-0.6 -4.2,0.4 -3,1.1 C-2,0.6 -1.2,1.4 -1.6,2.5 C-3,2.9 -4.5,2.7 -5.6,2.1 C-6.3,1.6 -6.6,0.8 -6.6,0Z" fill="#f7a61c"/>
<path d="M2.2,2.9 C3,1.4 4.2,1.2 5.5,2.0 C5,2.8 4,3.1 2.2,2.9Z" fill="#f7a61c"/>
</g></g>
<path d="M154,112.5 C170,110 192,116 200,126 C207,135 207,150 203,165 C199,180 190,190 176,197 C165,202.5 155,204 147,200 C138,195 128,175 122,152 C128,143 136,127 140,117 C144,113.5 149,113 154,112.5Z" fill="#ebe33a" stroke="#22221a" stroke-width="1"/>
<g transform="translate(181.00,137.80) scale(1.030)">
<line x1="11.33" y1="1.95" x2="14.39" y2="2.47" stroke="#1c1c1c" stroke-width="2.1"/>
<line x1="9.99" y1="5.70" x2="12.68" y2="7.24" stroke="#1c1c1c" stroke-width="2.1"/>
<line x1="7.43" y1="8.78" x2="9.44" y2="11.14" stroke="#1c1c1c" stroke-width="2.1"/>
<line x1="3.98" y1="10.79" x2="5.06" y2="13.70" stroke="#1c1c1c" stroke-width="2.1"/>
<line x1="0.05" y1="11.50" x2="0.07" y2="14.60" stroke="#1c1c1c" stroke-width="2.1"/>
<line x1="-3.88" y1="10.82" x2="-4.93" y2="13.74" stroke="#1c1c1c" stroke-width="2.1"/>
<line x1="-7.35" y1="8.84" x2="-9.33" y2="11.23" stroke="#1c1c1c" stroke-width="2.1"/>
<line x1="-9.93" y1="5.80" x2="-12.61" y2="7.36" stroke="#1c1c1c" stroke-width="2.1"/>
<line x1="-11.32" y1="2.05" x2="-14.37" y2="2.60" stroke="#1c1c1c" stroke-width="2.1"/>
<line x1="-11.33" y1="-1.95" x2="-14.39" y2="-2.47" stroke="#1c1c1c" stroke-width="2.1"/>
<line x1="-9.99" y1="-5.70" x2="-12.68" y2="-7.24" stroke="#1c1c1c" stroke-width="2.1"/>
<line x1="-7.43" y1="-8.78" x2="-9.44" y2="-11.14" stroke="#1c1c1c" stroke-width="2.1"/>
<line x1="-3.98" y1="-10.79" x2="-5.06" y2="-13.70" stroke="#1c1c1c" stroke-width="2.1"/>
<line x1="-0.05" y1="-11.50" x2="-0.07" y2="-14.60" stroke="#1c1c1c" stroke-width="2.1"/>
<line x1="3.88" y1="-10.82" x2="4.93" y2="-13.74" stroke="#1c1c1c" stroke-width="2.1"/>
<line x1="7.35" y1="-8.84" x2="9.33" y2="-11.23" stroke="#1c1c1c" stroke-width="2.1"/>
<line x1="9.93" y1="-5.80" x2="12.61" y2="-7.36" stroke="#1c1c1c" stroke-width="2.1"/>
<line x1="11.32" y1="-2.05" x2="14.37" y2="-2.60" stroke="#1c1c1c" stroke-width="2.1"/>
<circle cx="14.98" cy="2.57" r="1.65" fill="#d4e6ee" stroke="#1e262c" stroke-width="0.8"/>
<circle cx="13.20" cy="7.54" r="1.65" fill="#d4e6ee" stroke="#1e262c" stroke-width="0.8"/>
<circle cx="9.82" cy="11.60" r="1.65" fill="#d4e6ee" stroke="#1e262c" stroke-width="0.8"/>
<circle cx="5.26" cy="14.26" r="1.65" fill="#d4e6ee" stroke="#1e262c" stroke-width="0.8"/>
<circle cx="0.07" cy="15.20" r="1.65" fill="#d4e6ee" stroke="#1e262c" stroke-width="0.8"/>
<circle cx="-5.13" cy="14.31" r="1.65" fill="#d4e6ee" stroke="#1e262c" stroke-width="0.8"/>
<circle cx="-9.72" cy="11.69" r="1.65" fill="#d4e6ee" stroke="#1e262c" stroke-width="0.8"/>
<circle cx="-13.13" cy="7.66" r="1.65" fill="#d4e6ee" stroke="#1e262c" stroke-width="0.8"/>
<circle cx="-14.96" cy="2.71" r="1.65" fill="#d4e6ee" stroke="#1e262c" stroke-width="0.8"/>
<circle cx="-14.98" cy="-2.57" r="1.65" fill="#d4e6ee" stroke="#1e262c" stroke-width="0.8"/>
<circle cx="-13.20" cy="-7.54" r="1.65" fill="#d4e6ee" stroke="#1e262c" stroke-width="0.8"/>
<circle cx="-9.82" cy="-11.60" r="1.65" fill="#d4e6ee" stroke="#1e262c" stroke-width="0.8"/>
<circle cx="-5.26" cy="-14.26" r="1.65" fill="#d4e6ee" stroke="#1e262c" stroke-width="0.8"/>
<circle cx="-0.07" cy="-15.20" r="1.65" fill="#d4e6ee" stroke="#1e262c" stroke-width="0.8"/>
<circle cx="5.13" cy="-14.31" r="1.65" fill="#d4e6ee" stroke="#1e262c" stroke-width="0.8"/>
<circle cx="9.72" cy="-11.69" r="1.65" fill="#d4e6ee" stroke="#1e262c" stroke-width="0.8"/>
<circle cx="13.13" cy="-7.66" r="1.65" fill="#d4e6ee" stroke="#1e262c" stroke-width="0.8"/>
<circle cx="14.96" cy="-2.71" r="1.65" fill="#d4e6ee" stroke="#1e262c" stroke-width="0.8"/>
<circle r="11.10" fill="#ebe33a" stroke="#1c1c1c" stroke-width="2.9"/>
<circle r="9.1" fill="none" stroke="#2a2a2a" stroke-width="0.6"/>
<g transform="rotate(35) scale(1.12)">
<path d="M-7.5,-0.3 C-7.6,-3.0 -4.5,-3.6 -1,-3.6 C3,-3.7 7.6,-3.9 7.6,0.2 C7.6,4.0 3.5,3.8 0,3.7 C-3.5,3.6 -7.4,3.0 -7.5,-0.3Z" fill="#62b52f" stroke="#151515" stroke-width="1.5"/>
<path d="M-6.6,0 C-5.5,-0.6 -4.2,0.4 -3,1.1 C-2,0.6 -1.2,1.4 -1.6,2.5 C-3,2.9 -4.5,2.7 -5.6,2.1 C-6.3,1.6 -6.6,0.8 -6.6,0Z" fill="#f7a61c"/>
<path d="M2.2,2.9 C3,1.4 4.2,1.2 5.5,2.0 C5,2.8 4,3.1 2.2,2.9Z" fill="#f7a61c"/>
</g></g>
<g transform="translate(148.30,153.80) scale(1.030)">
<line x1="11.33" y1="1.95" x2="14.39" y2="2.47" stroke="#1c1c1c" stroke-width="2.1"/>
<line x1="9.99" y1="5.70" x2="12.68" y2="7.24" stroke="#1c1c1c" stroke-width="2.1"/>
<line x1="7.43" y1="8.78" x2="9.44" y2="11.14" stroke="#1c1c1c" stroke-width="2.1"/>
<line x1="3.98" y1="10.79" x2="5.06" y2="13.70" stroke="#1c1c1c" stroke-width="2.1"/>
<line x1="0.05" y1="11.50" x2="0.07" y2="14.60" stroke="#1c1c1c" stroke-width="2.1"/>
<line x1="-3.88" y1="10.82" x2="-4.93" y2="13.74" stroke="#1c1c1c" stroke-width="2.1"/>
<line x1="-7.35" y1="8.84" x2="-9.33" y2="11.23" stroke="#1c1c1c" stroke-width="2.1"/>
<line x1="-9.93" y1="5.80" x2="-12.61" y2="7.36" stroke="#1c1c1c" stroke-width="2.1"/>
<line x1="-11.32" y1="2.05" x2="-14.37" y2="2.60" stroke="#1c1c1c" stroke-width="2.1"/>
<line x1="-11.33" y1="-1.95" x2="-14.39" y2="-2.47" stroke="#1c1c1c" stroke-width="2.1"/>
<line x1="-9.99" y1="-5.70" x2="-12.68" y2="-7.24" stroke="#1c1c1c" stroke-width="2.1"/>
<line x1="-7.43" y1="-8.78" x2="-9.44" y2="-11.14" stroke="#1c1c1c" stroke-width="2.1"/>
<line x1="-3.98" y1="-10.79" x2="-5.06" y2="-13.70" stroke="#1c1c1c" stroke-width="2.1"/>
<line x1="-0.05" y1="-11.50" x2="-0.07" y2="-14.60" stroke="#1c1c1c" stroke-width="2.1"/>
<line x1="3.88" y1="-10.82" x2="4.93" y2="-13.74" stroke="#1c1c1c" stroke-width="2.1"/>
<line x1="7.35" y1="-8.84" x2="9.33" y2="-11.23" stroke="#1c1c1c" stroke-width="2.1"/>
<line x1="9.93" y1="-5.80" x2="12.61" y2="-7.36" stroke="#1c1c1c" stroke-width="2.1"/>
<line x1="11.32" y1="-2.05" x2="14.37" y2="-2.60" stroke="#1c1c1c" stroke-width="2.1"/>
<circle cx="14.98" cy="2.57" r="1.65" fill="#d4e6ee" stroke="#1e262c" stroke-width="0.8"/>
<circle cx="13.20" cy="7.54" r="1.65" fill="#d4e6ee" stroke="#1e262c" stroke-width="0.8"/>
<circle cx="9.82" cy="11.60" r="1.65" fill="#d4e6ee" stroke="#1e262c" stroke-width="0.8"/>
<circle cx="5.26" cy="14.26" r="1.65" fill="#d4e6ee" stroke="#1e262c" stroke-width="0.8"/>
<circle cx="0.07" cy="15.20" r="1.65" fill="#d4e6ee" stroke="#1e262c" stroke-width="0.8"/>
<circle cx="-5.13" cy="14.31" r="1.65" fill="#d4e6ee" stroke="#1e262c" stroke-width="0.8"/>
<circle cx="-9.72" cy="11.69" r="1.65" fill="#d4e6ee" stroke="#1e262c" stroke-width="0.8"/>
<circle cx="-13.13" cy="7.66" r="1.65" fill="#d4e6ee" stroke="#1e262c" stroke-width="0.8"/>
<circle cx="-14.96" cy="2.71" r="1.65" fill="#d4e6ee" stroke="#1e262c" stroke-width="0.8"/>
<circle cx="-14.98" cy="-2.57" r="1.65" fill="#d4e6ee" stroke="#1e262c" stroke-width="0.8"/>
<circle cx="-13.20" cy="-7.54" r="1.65" fill="#d4e6ee" stroke="#1e262c" stroke-width="0.8"/>
<circle cx="-9.82" cy="-11.60" r="1.65" fill="#d4e6ee" stroke="#1e262c" stroke-width="0.8"/>
<circle cx="-5.26" cy="-14.26" r="1.65" fill="#d4e6ee" stroke="#1e262c" stroke-width="0.8"/>
<circle cx="-0.07" cy="-15.20" r="1.65" fill="#d4e6ee" stroke="#1e262c" stroke-width="0.8"/>
<circle cx="5.13" cy="-14.31" r="1.65" fill="#d4e6ee" stroke="#1e262c" stroke-width="0.8"/>
<circle cx="9.72" cy="-11.69" r="1.65" fill="#d4e6ee" stroke="#1e262c" stroke-width="0.8"/>
<circle cx="13.13" cy="-7.66" r="1.65" fill="#d4e6ee" stroke="#1e262c" stroke-width="0.8"/>
<circle cx="14.96" cy="-2.71" r="1.65" fill="#d4e6ee" stroke="#1e262c" stroke-width="0.8"/>
<circle r="11.10" fill="#ebe33a" stroke="#1c1c1c" stroke-width="2.9"/>
<circle r="9.1" fill="none" stroke="#2a2a2a" stroke-width="0.6"/>
<g transform="rotate(35) scale(1.12)">
<path d="M-7.5,-0.3 C-7.6,-3.0 -4.5,-3.6 -1,-3.6 C3,-3.7 7.6,-3.9 7.6,0.2 C7.6,4.0 3.5,3.8 0,3.7 C-3.5,3.6 -7.4,3.0 -7.5,-0.3Z" fill="#62b52f" stroke="#151515" stroke-width="1.5"/>
<path d="M-6.6,0 C-5.5,-0.6 -4.2,0.4 -3,1.1 C-2,0.6 -1.2,1.4 -1.6,2.5 C-3,2.9 -4.5,2.7 -5.6,2.1 C-6.3,1.6 -6.6,0.8 -6.6,0Z" fill="#f7a61c"/>
<path d="M2.2,2.9 C3,1.4 4.2,1.2 5.5,2.0 C5,2.8 4,3.1 2.2,2.9Z" fill="#f7a61c"/>
</g></g>
<g transform="translate(185.20,168.80) scale(1.030)">
<line x1="11.33" y1="1.95" x2="14.39" y2="2.47" stroke="#1c1c1c" stroke-width="2.1"/>
<line x1="9.99" y1="5.70" x2="12.68" y2="7.24" stroke="#1c1c1c" stroke-width="2.1"/>
<line x1="7.43" y1="8.78" x2="9.44" y2="11.14" stroke="#1c1c1c" stroke-width="2.1"/>
<line x1="3.98" y1="10.79" x2="5.06" y2="13.70" stroke="#1c1c1c" stroke-width="2.1"/>
<line x1="0.05" y1="11.50" x2="0.07" y2="14.60" stroke="#1c1c1c" stroke-width="2.1"/>
<line x1="-3.88" y1="10.82" x2="-4.93" y2="13.74" stroke="#1c1c1c" stroke-width="2.1"/>
<line x1="-7.35" y1="8.84" x2="-9.33" y2="11.23" stroke="#1c1c1c" stroke-width="2.1"/>
<line x1="-9.93" y1="5.80" x2="-12.61" y2="7.36" stroke="#1c1c1c" stroke-width="2.1"/>
<line x1="-11.32" y1="2.05" x2="-14.37" y2="2.60" stroke="#1c1c1c" stroke-width="2.1"/>
<line x1="-11.33" y1="-1.95" x2="-14.39" y2="-2.47" stroke="#1c1c1c" stroke-width="2.1"/>
<line x1="-9.99" y1="-5.70" x2="-12.68" y2="-7.24" stroke="#1c1c1c" stroke-width="2.1"/>
<line x1="-7.43" y1="-8.78" x2="-9.44" y2="-11.14" stroke="#1c1c1c" stroke-width="2.1"/>
<line x1="-3.98" y1="-10.79" x2="-5.06" y2="-13.70" stroke="#1c1c1c" stroke-width="2.1"/>
<line x1="-0.05" y1="-11.50" x2="-0.07" y2="-14.60" stroke="#1c1c1c" stroke-width="2.1"/>
<line x1="3.88" y1="-10.82" x2="4.93" y2="-13.74" stroke="#1c1c1c" stroke-width="2.1"/>
<line x1="7.35" y1="-8.84" x2="9.33" y2="-11.23" stroke="#1c1c1c" stroke-width="2.1"/>
<line x1="9.93" y1="-5.80" x2="12.61" y2="-7.36" stroke="#1c1c1c" stroke-width="2.1"/>
<line x1="11.32" y1="-2.05" x2="14.37" y2="-2.60" stroke="#1c1c1c" stroke-width="2.1"/>
<circle cx="14.98" cy="2.57" r="1.65" fill="#d4e6ee" stroke="#1e262c" stroke-width="0.8"/>
<circle cx="13.20" cy="7.54" r="1.65" fill="#d4e6ee" stroke="#1e262c" stroke-width="0.8"/>
<circle cx="9.82" cy="11.60" r="1.65" fill="#d4e6ee" stroke="#1e262c" stroke-width="0.8"/>
<circle cx="5.26" cy="14.26" r="1.65" fill="#d4e6ee" stroke="#1e262c" stroke-width="0.8"/>
<circle cx="0.07" cy="15.20" r="1.65" fill="#d4e6ee" stroke="#1e262c" stroke-width="0.8"/>
<circle cx="-5.13" cy="14.31" r="1.65" fill="#d4e6ee" stroke="#1e262c" stroke-width="0.8"/>
<circle cx="-9.72" cy="11.69" r="1.65" fill="#d4e6ee" stroke="#1e262c" stroke-width="0.8"/>
<circle cx="-13.13" cy="7.66" r="1.65" fill="#d4e6ee" stroke="#1e262c" stroke-width="0.8"/>
<circle cx="-14.96" cy="2.71" r="1.65" fill="#d4e6ee" stroke="#1e262c" stroke-width="0.8"/>
<circle cx="-14.98" cy="-2.57" r="1.65" fill="#d4e6ee" stroke="#1e262c" stroke-width="0.8"/>
<circle cx="-13.20" cy="-7.54" r="1.65" fill="#d4e6ee" stroke="#1e262c" stroke-width="0.8"/>
<circle cx="-9.82" cy="-11.60" r="1.65" fill="#d4e6ee" stroke="#1e262c" stroke-width="0.8"/>
<circle cx="-5.26" cy="-14.26" r="1.65" fill="#d4e6ee" stroke="#1e262c" stroke-width="0.8"/>
<circle cx="-0.07" cy="-15.20" r="1.65" fill="#d4e6ee" stroke="#1e262c" stroke-width="0.8"/>
<circle cx="5.13" cy="-14.31" r="1.65" fill="#d4e6ee" stroke="#1e262c" stroke-width="0.8"/>
<circle cx="9.72" cy="-11.69" r="1.65" fill="#d4e6ee" stroke="#1e262c" stroke-width="0.8"/>
<circle cx="13.13" cy="-7.66" r="1.65" fill="#d4e6ee" stroke="#1e262c" stroke-width="0.8"/>
<circle cx="14.96" cy="-2.71" r="1.65" fill="#d4e6ee" stroke="#1e262c" stroke-width="0.8"/>
<circle r="11.10" fill="#ebe33a" stroke="#1c1c1c" stroke-width="2.9"/>
<circle r="9.1" fill="none" stroke="#2a2a2a" stroke-width="0.6"/>
<g transform="rotate(35) scale(1.12)">
<path d="M-7.5,-0.3 C-7.6,-3.0 -4.5,-3.6 -1,-3.6 C3,-3.7 7.6,-3.9 7.6,0.2 C7.6,4.0 3.5,3.8 0,3.7 C-3.5,3.6 -7.4,3.0 -7.5,-0.3Z" fill="#62b52f" stroke="#151515" stroke-width="1.5"/>
<path d="M-6.6,0 C-5.5,-0.6 -4.2,0.4 -3,1.1 C-2,0.6 -1.2,1.4 -1.6,2.5 C-3,2.9 -4.5,2.7 -5.6,2.1 C-6.3,1.6 -6.6,0.8 -6.6,0Z" fill="#f7a61c"/>
<path d="M2.2,2.9 C3,1.4 4.2,1.2 5.5,2.0 C5,2.8 4,3.1 2.2,2.9Z" fill="#f7a61c"/>
</g></g>
<g transform="translate(151.60,185.20) scale(1.030)">
<line x1="11.33" y1="1.95" x2="14.39" y2="2.47" stroke="#1c1c1c" stroke-width="2.1"/>
<line x1="9.99" y1="5.70" x2="12.68" y2="7.24" stroke="#1c1c1c" stroke-width="2.1"/>
<line x1="7.43" y1="8.78" x2="9.44" y2="11.14" stroke="#1c1c1c" stroke-width="2.1"/>
<line x1="3.98" y1="10.79" x2="5.06" y2="13.70" stroke="#1c1c1c" stroke-width="2.1"/>
<line x1="0.05" y1="11.50" x2="0.07" y2="14.60" stroke="#1c1c1c" stroke-width="2.1"/>
<line x1="-3.88" y1="10.82" x2="-4.93" y2="13.74" stroke="#1c1c1c" stroke-width="2.1"/>
<line x1="-7.35" y1="8.84" x2="-9.33" y2="11.23" stroke="#1c1c1c" stroke-width="2.1"/>
<line x1="-9.93" y1="5.80" x2="-12.61" y2="7.36" stroke="#1c1c1c" stroke-width="2.1"/>
<line x1="-11.32" y1="2.05" x2="-14.37" y2="2.60" stroke="#1c1c1c" stroke-width="2.1"/>
<line x1="-11.33" y1="-1.95" x2="-14.39" y2="-2.47" stroke="#1c1c1c" stroke-width="2.1"/>
<line x1="-9.99" y1="-5.70" x2="-12.68" y2="-7.24" stroke="#1c1c1c" stroke-width="2.1"/>
<line x1="-7.43" y1="-8.78" x2="-9.44" y2="-11.14" stroke="#1c1c1c" stroke-width="2.1"/>
<line x1="-3.98" y1="-10.79" x2="-5.06" y2="-13.70" stroke="#1c1c1c" stroke-width="2.1"/>
<line x1="-0.05" y1="-11.50" x2="-0.07" y2="-14.60" stroke="#1c1c1c" stroke-width="2.1"/>
<line x1="3.88" y1="-10.82" x2="4.93" y2="-13.74" stroke="#1c1c1c" stroke-width="2.1"/>
<line x1="7.35" y1="-8.84" x2="9.33" y2="-11.23" stroke="#1c1c1c" stroke-width="2.1"/>
<line x1="9.93" y1="-5.80" x2="12.61" y2="-7.36" stroke="#1c1c1c" stroke-width="2.1"/>
<line x1="11.32" y1="-2.05" x2="14.37" y2="-2.60" stroke="#1c1c1c" stroke-width="2.1"/>
<circle cx="14.98" cy="2.57" r="1.65" fill="#d4e6ee" stroke="#1e262c" stroke-width="0.8"/>
<circle cx="13.20" cy="7.54" r="1.65" fill="#d4e6ee" stroke="#1e262c" stroke-width="0.8"/>
<circle cx="9.82" cy="11.60" r="1.65" fill="#d4e6ee" stroke="#1e262c" stroke-width="0.8"/>
<circle cx="5.26" cy="14.26" r="1.65" fill="#d4e6ee" stroke="#1e262c" stroke-width="0.8"/>
<circle cx="0.07" cy="15.20" r="1.65" fill="#d4e6ee" stroke="#1e262c" stroke-width="0.8"/>
<circle cx="-5.13" cy="14.31" r="1.65" fill="#d4e6ee" stroke="#1e262c" stroke-width="0.8"/>
<circle cx="-9.72" cy="11.69" r="1.65" fill="#d4e6ee" stroke="#1e262c" stroke-width="0.8"/>
<circle cx="-13.13" cy="7.66" r="1.65" fill="#d4e6ee" stroke="#1e262c" stroke-width="0.8"/>
<circle cx="-14.96" cy="2.71" r="1.65" fill="#d4e6ee" stroke="#1e262c" stroke-width="0.8"/>
<circle cx="-14.98" cy="-2.57" r="1.65" fill="#d4e6ee" stroke="#1e262c" stroke-width="0.8"/>
<circle cx="-13.20" cy="-7.54" r="1.65" fill="#d4e6ee" stroke="#1e262c" stroke-width="0.8"/>
<circle cx="-9.82" cy="-11.60" r="1.65" fill="#d4e6ee" stroke="#1e262c" stroke-width="0.8"/>
<circle cx="-5.26" cy="-14.26" r="1.65" fill="#d4e6ee" stroke="#1e262c" stroke-width="0.8"/>
<circle cx="-0.07" cy="-15.20" r="1.65" fill="#d4e6ee" stroke="#1e262c" stroke-width="0.8"/>
<circle cx="5.13" cy="-14.31" r="1.65" fill="#d4e6ee" stroke="#1e262c" stroke-width="0.8"/>
<circle cx="9.72" cy="-11.69" r="1.65" fill="#d4e6ee" stroke="#1e262c" stroke-width="0.8"/>
<circle cx="13.13" cy="-7.66" r="1.65" fill="#d4e6ee" stroke="#1e262c" stroke-width="0.8"/>
<circle cx="14.96" cy="-2.71" r="1.65" fill="#d4e6ee" stroke="#1e262c" stroke-width="0.8"/>
<circle r="11.10" fill="#ebe33a" stroke="#1c1c1c" stroke-width="2.9"/>
<circle r="9.1" fill="none" stroke="#2a2a2a" stroke-width="0.6"/>
<g transform="rotate(35) scale(1.12)">
<path d="M-7.5,-0.3 C-7.6,-3.0 -4.5,-3.6 -1,-3.6 C3,-3.7 7.6,-3.9 7.6,0.2 C7.6,4.0 3.5,3.8 0,3.7 C-3.5,3.6 -7.4,3.0 -7.5,-0.3Z" fill="#62b52f" stroke="#151515" stroke-width="1.5"/>
<path d="M-6.6,0 C-5.5,-0.6 -4.2,0.4 -3,1.1 C-2,0.6 -1.2,1.4 -1.6,2.5 C-3,2.9 -4.5,2.7 -5.6,2.1 C-6.3,1.6 -6.6,0.8 -6.6,0Z" fill="#f7a61c"/>
<path d="M2.2,2.9 C3,1.4 4.2,1.2 5.5,2.0 C5,2.8 4,3.1 2.2,2.9Z" fill="#f7a61c"/>
</g></g>
<g transform="translate(123.60,133.60) scale(1.000)">
<line x1="11.33" y1="1.95" x2="14.39" y2="2.47" stroke="#1c1c1c" stroke-width="2.5"/>
<line x1="9.99" y1="5.70" x2="12.68" y2="7.24" stroke="#1c1c1c" stroke-width="2.5"/>
<line x1="7.43" y1="8.78" x2="9.44" y2="11.14" stroke="#1c1c1c" stroke-width="2.5"/>
<line x1="3.98" y1="10.79" x2="5.06" y2="13.70" stroke="#1c1c1c" stroke-width="2.5"/>
<line x1="0.05" y1="11.50" x2="0.07" y2="14.60" stroke="#1c1c1c" stroke-width="2.5"/>
<line x1="-3.88" y1="10.82" x2="-4.93" y2="13.74" stroke="#1c1c1c" stroke-width="2.5"/>
<line x1="-7.35" y1="8.84" x2="-9.33" y2="11.23" stroke="#1c1c1c" stroke-width="2.5"/>
<line x1="-9.93" y1="5.80" x2="-12.61" y2="7.36" stroke="#1c1c1c" stroke-width="2.5"/>
<line x1="-11.32" y1="2.05" x2="-14.37" y2="2.60" stroke="#1c1c1c" stroke-width="2.5"/>
<line x1="-11.33" y1="-1.95" x2="-14.39" y2="-2.47" stroke="#1c1c1c" stroke-width="2.5"/>
<line x1="-9.99" y1="-5.70" x2="-12.68" y2="-7.24" stroke="#1c1c1c" stroke-width="2.5"/>
<line x1="-7.43" y1="-8.78" x2="-9.44" y2="-11.14" stroke="#1c1c1c" stroke-width="2.5"/>
<line x1="-3.98" y1="-10.79" x2="-5.06" y2="-13.70" stroke="#1c1c1c" stroke-width="2.5"/>
<line x1="-0.05" y1="-11.50" x2="-0.07" y2="-14.60" stroke="#1c1c1c" stroke-width="2.5"/>
<line x1="3.88" y1="-10.82" x2="4.93" y2="-13.74" stroke="#1c1c1c" stroke-width="2.5"/>
<line x1="7.35" y1="-8.84" x2="9.33" y2="-11.23" stroke="#1c1c1c" stroke-width="2.5"/>
<line x1="9.93" y1="-5.80" x2="12.61" y2="-7.36" stroke="#1c1c1c" stroke-width="2.5"/>
<line x1="11.32" y1="-2.05" x2="14.37" y2="-2.60" stroke="#1c1c1c" stroke-width="2.5"/>
<circle cx="14.98" cy="2.57" r="1.75" fill="#c2e1ef" stroke="#222c33" stroke-width="0.8"/>
<circle cx="13.20" cy="7.54" r="1.75" fill="#c2e1ef" stroke="#222c33" stroke-width="0.8"/>
<circle cx="9.82" cy="11.60" r="1.75" fill="#c2e1ef" stroke="#222c33" stroke-width="0.8"/>
<circle cx="5.26" cy="14.26" r="1.75" fill="#c2e1ef" stroke="#222c33" stroke-width="0.8"/>
<circle cx="0.07" cy="15.20" r="1.75" fill="#c2e1ef" stroke="#222c33" stroke-width="0.8"/>
<circle cx="-5.13" cy="14.31" r="1.75" fill="#c2e1ef" stroke="#222c33" stroke-width="0.8"/>
<circle cx="-9.72" cy="11.69" r="1.75" fill="#c2e1ef" stroke="#222c33" stroke-width="0.8"/>
<circle cx="-13.13" cy="7.66" r="1.75" fill="#c2e1ef" stroke="#222c33" stroke-width="0.8"/>
<circle cx="-14.96" cy="2.71" r="1.75" fill="#c2e1ef" stroke="#222c33" stroke-width="0.8"/>
<circle cx="-14.98" cy="-2.57" r="1.75" fill="#c2e1ef" stroke="#222c33" stroke-width="0.8"/>
<circle cx="-13.20" cy="-7.54" r="1.75" fill="#c2e1ef" stroke="#222c33" stroke-width="0.8"/>
<circle cx="-9.82" cy="-11.60" r="1.75" fill="#c2e1ef" stroke="#222c33" stroke-width="0.8"/>
<circle cx="-5.26" cy="-14.26" r="1.75" fill="#c2e1ef" stroke="#222c33" stroke-width="0.8"/>
<circle cx="-0.07" cy="-15.20" r="1.75" fill="#c2e1ef" stroke="#222c33" stroke-width="0.8"/>
<circle cx="5.13" cy="-14.31" r="1.75" fill="#c2e1ef" stroke="#222c33" stroke-width="0.8"/>
<circle cx="9.72" cy="-11.69" r="1.75" fill="#c2e1ef" stroke="#222c33" stroke-width="0.8"/>
<circle cx="13.13" cy="-7.66" r="1.75" fill="#c2e1ef" stroke="#222c33" stroke-width="0.8"/>
<circle cx="14.96" cy="-2.71" r="1.75" fill="#c2e1ef" stroke="#222c33" stroke-width="0.8"/>
<circle r="10.90" fill="#fff" stroke="#1c1c1c" stroke-width="3.3"/>
<path d="M1.65,-9.36 A9.5,9.5 0 0 1 2.46,9.18 Z" fill="#ebe33a"/>
<path d="M-8.2,2.2 A8.5,8.5 0 0 0 6.2,5.9" fill="none" stroke="#3a3a3a" stroke-width="0.7"/>
<g transform="rotate(-52) scale(1.1)">
<path d="M-7.5,-0.3 C-7.6,-3.0 -4.5,-3.6 -1,-3.6 C3,-3.7 7.6,-3.9 7.6,0.2 C7.6,4.0 3.5,3.8 0,3.7 C-3.5,3.6 -7.4,3.0 -7.5,-0.3Z" fill="#62b52f" stroke="#151515" stroke-width="1.5"/>
<path d="M-6.6,0 C-5.5,-0.6 -4.2,0.4 -3,1.1 C-2,0.6 -1.2,1.4 -1.6,2.5 C-3,2.9 -4.5,2.7 -5.6,2.1 C-6.3,1.6 -6.6,0.8 -6.6,0Z" fill="#f7a61c"/>
<path d="M2.2,2.9 C3,1.4 4.2,1.2 5.5,2.0 C5,2.8 4,3.1 2.2,2.9Z" fill="#f7a61c"/>
</g></g>
<g transform="translate(139.20,105.20) scale(1.000)">
<line x1="11.33" y1="1.95" x2="14.39" y2="2.47" stroke="#1c1c1c" stroke-width="2.5"/>
<line x1="9.99" y1="5.70" x2="12.68" y2="7.24" stroke="#1c1c1c" stroke-width="2.5"/>
<line x1="7.43" y1="8.78" x2="9.44" y2="11.14" stroke="#1c1c1c" stroke-width="2.5"/>
<line x1="3.98" y1="10.79" x2="5.06" y2="13.70" stroke="#1c1c1c" stroke-width="2.5"/>
<line x1="0.05" y1="11.50" x2="0.07" y2="14.60" stroke="#1c1c1c" stroke-width="2.5"/>
<line x1="-3.88" y1="10.82" x2="-4.93" y2="13.74" stroke="#1c1c1c" stroke-width="2.5"/>
<line x1="-7.35" y1="8.84" x2="-9.33" y2="11.23" stroke="#1c1c1c" stroke-width="2.5"/>
<line x1="-9.93" y1="5.80" x2="-12.61" y2="7.36" stroke="#1c1c1c" stroke-width="2.5"/>
<line x1="-11.32" y1="2.05" x2="-14.37" y2="2.60" stroke="#1c1c1c" stroke-width="2.5"/>
<line x1="-11.33" y1="-1.95" x2="-14.39" y2="-2.47" stroke="#1c1c1c" stroke-width="2.5"/>
<line x1="-9.99" y1="-5.70" x2="-12.68" y2="-7.24" stroke="#1c1c1c" stroke-width="2.5"/>
<line x1="-7.43" y1="-8.78" x2="-9.44" y2="-11.14" stroke="#1c1c1c" stroke-width="2.5"/>
<line x1="-3.98" y1="-10.79" x2="-5.06" y2="-13.70" stroke="#1c1c1c" stroke-width="2.5"/>
<line x1="-0.05" y1="-11.50" x2="-0.07" y2="-14.60" stroke="#1c1c1c" stroke-width="2.5"/>
<line x1="3.88" y1="-10.82" x2="4.93" y2="-13.74" stroke="#1c1c1c" stroke-width="2.5"/>
<line x1="7.35" y1="-8.84" x2="9.33" y2="-11.23" stroke="#1c1c1c" stroke-width="2.5"/>
<line x1="9.93" y1="-5.80" x2="12.61" y2="-7.36" stroke="#1c1c1c" stroke-width="2.5"/>
<line x1="11.32" y1="-2.05" x2="14.37" y2="-2.60" stroke="#1c1c1c" stroke-width="2.5"/>
<circle cx="14.98" cy="2.57" r="1.75" fill="#c2e1ef" stroke="#222c33" stroke-width="0.8"/>
<circle cx="13.20" cy="7.54" r="1.75" fill="#c2e1ef" stroke="#222c33" stroke-width="0.8"/>
<circle cx="9.82" cy="11.60" r="1.75" fill="#c2e1ef" stroke="#222c33" stroke-width="0.8"/>
<circle cx="5.26" cy="14.26" r="1.75" fill="#c2e1ef" stroke="#222c33" stroke-width="0.8"/>
<circle cx="0.07" cy="15.20" r="1.75" fill="#c2e1ef" stroke="#222c33" stroke-width="0.8"/>
<circle cx="-5.13" cy="14.31" r="1.75" fill="#c2e1ef" stroke="#222c33" stroke-width="0.8"/>
<circle cx="-9.72" cy="11.69" r="1.75" fill="#c2e1ef" stroke="#222c33" stroke-width="0.8"/>
<circle cx="-13.13" cy="7.66" r="1.75" fill="#c2e1ef" stroke="#222c33" stroke-width="0.8"/>
<circle cx="-14.96" cy="2.71" r="1.75" fill="#c2e1ef" stroke="#222c33" stroke-width="0.8"/>
<circle cx="-14.98" cy="-2.57" r="1.75" fill="#c2e1ef" stroke="#222c33" stroke-width="0.8"/>
<circle cx="-13.20" cy="-7.54" r="1.75" fill="#c2e1ef" stroke="#222c33" stroke-width="0.8"/>
<circle cx="-9.82" cy="-11.60" r="1.75" fill="#c2e1ef" stroke="#222c33" stroke-width="0.8"/>
<circle cx="-5.26" cy="-14.26" r="1.75" fill="#c2e1ef" stroke="#222c33" stroke-width="0.8"/>
<circle cx="-0.07" cy="-15.20" r="1.75" fill="#c2e1ef" stroke="#222c33" stroke-width="0.8"/>
<circle cx="5.13" cy="-14.31" r="1.75" fill="#c2e1ef" stroke="#222c33" stroke-width="0.8"/>
<circle cx="9.72" cy="-11.69" r="1.75" fill="#c2e1ef" stroke="#222c33" stroke-width="0.8"/>
<circle cx="13.13" cy="-7.66" r="1.75" fill="#c2e1ef" stroke="#222c33" stroke-width="0.8"/>
<circle cx="14.96" cy="-2.71" r="1.75" fill="#c2e1ef" stroke="#222c33" stroke-width="0.8"/>
<circle r="10.90" fill="#fff" stroke="#1c1c1c" stroke-width="3.3"/>
<path d="M-8.2,2.2 A8.5,8.5 0 0 0 6.2,5.9" fill="none" stroke="#3a3a3a" stroke-width="0.7"/>
<g transform="rotate(35) scale(1.1)">
<path d="M-7.5,-0.3 C-7.6,-3.0 -4.5,-3.6 -1,-3.6 C3,-3.7 7.6,-3.9 7.6,0.2 C7.6,4.0 3.5,3.8 0,3.7 C-3.5,3.6 -7.4,3.0 -7.5,-0.3Z" fill="#62b52f" stroke="#151515" stroke-width="1.5"/>
<path d="M-6.6,0 C-5.5,-0.6 -4.2,0.4 -3,1.1 C-2,0.6 -1.2,1.4 -1.6,2.5 C-3,2.9 -4.5,2.7 -5.6,2.1 C-6.3,1.6 -6.6,0.8 -6.6,0Z" fill="#f7a61c"/>
<path d="M2.2,2.9 C3,1.4 4.2,1.2 5.5,2.0 C5,2.8 4,3.1 2.2,2.9Z" fill="#f7a61c"/>
</g></g>
<g transform="translate(61.10,43.10) scale(1.030)">
<line x1="11.33" y1="1.95" x2="14.39" y2="2.47" stroke="#1c1c1c" stroke-width="2.5"/>
<line x1="9.99" y1="5.70" x2="12.68" y2="7.24" stroke="#1c1c1c" stroke-width="2.5"/>
<line x1="7.43" y1="8.78" x2="9.44" y2="11.14" stroke="#1c1c1c" stroke-width="2.5"/>
<line x1="3.98" y1="10.79" x2="5.06" y2="13.70" stroke="#1c1c1c" stroke-width="2.5"/>
<line x1="0.05" y1="11.50" x2="0.07" y2="14.60" stroke="#1c1c1c" stroke-width="2.5"/>
<line x1="-3.88" y1="10.82" x2="-4.93" y2="13.74" stroke="#1c1c1c" stroke-width="2.5"/>
<line x1="-7.35" y1="8.84" x2="-9.33" y2="11.23" stroke="#1c1c1c" stroke-width="2.5"/>
<line x1="-9.93" y1="5.80" x2="-12.61" y2="7.36" stroke="#1c1c1c" stroke-width="2.5"/>
<line x1="-11.32" y1="2.05" x2="-14.37" y2="2.60" stroke="#1c1c1c" stroke-width="2.5"/>
<line x1="-11.33" y1="-1.95" x2="-14.39" y2="-2.47" stroke="#1c1c1c" stroke-width="2.5"/>
<line x1="-9.99" y1="-5.70" x2="-12.68" y2="-7.24" stroke="#1c1c1c" stroke-width="2.5"/>
<line x1="-7.43" y1="-8.78" x2="-9.44" y2="-11.14" stroke="#1c1c1c" stroke-width="2.5"/>
<line x1="-3.98" y1="-10.79" x2="-5.06" y2="-13.70" stroke="#1c1c1c" stroke-width="2.5"/>
<line x1="-0.05" y1="-11.50" x2="-0.07" y2="-14.60" stroke="#1c1c1c" stroke-width="2.5"/>
<line x1="3.88" y1="-10.82" x2="4.93" y2="-13.74" stroke="#1c1c1c" stroke-width="2.5"/>
<line x1="7.35" y1="-8.84" x2="9.33" y2="-11.23" stroke="#1c1c1c" stroke-width="2.5"/>
<line x1="9.93" y1="-5.80" x2="12.61" y2="-7.36" stroke="#1c1c1c" stroke-width="2.5"/>
<line x1="11.32" y1="-2.05" x2="14.37" y2="-2.60" stroke="#1c1c1c" stroke-width="2.5"/>
<circle cx="14.98" cy="2.57" r="1.75" fill="#c2e1ef" stroke="#222c33" stroke-width="0.8"/>
<circle cx="13.20" cy="7.54" r="1.75" fill="#c2e1ef" stroke="#222c33" stroke-width="0.8"/>
<circle cx="9.82" cy="11.60" r="1.75" fill="#c2e1ef" stroke="#222c33" stroke-width="0.8"/>
<circle cx="5.26" cy="14.26" r="1.75" fill="#c2e1ef" stroke="#222c33" stroke-width="0.8"/>
<circle cx="0.07" cy="15.20" r="1.75" fill="#c2e1ef" stroke="#222c33" stroke-width="0.8"/>
<circle cx="-5.13" cy="14.31" r="1.75" fill="#c2e1ef" stroke="#222c33" stroke-width="0.8"/>
<circle cx="-9.72" cy="11.69" r="1.75" fill="#c2e1ef" stroke="#222c33" stroke-width="0.8"/>
<circle cx="-13.13" cy="7.66" r="1.75" fill="#c2e1ef" stroke="#222c33" stroke-width="0.8"/>
<circle cx="-14.96" cy="2.71" r="1.75" fill="#c2e1ef" stroke="#222c33" stroke-width="0.8"/>
<circle cx="-14.98" cy="-2.57" r="1.75" fill="#c2e1ef" stroke="#222c33" stroke-width="0.8"/>
<circle cx="-13.20" cy="-7.54" r="1.75" fill="#c2e1ef" stroke="#222c33" stroke-width="0.8"/>
<circle cx="-9.82" cy="-11.60" r="1.75" fill="#c2e1ef" stroke="#222c33" stroke-width="0.8"/>
<circle cx="-5.26" cy="-14.26" r="1.75" fill="#c2e1ef" stroke="#222c33" stroke-width="0.8"/>
<circle cx="-0.07" cy="-15.20" r="1.75" fill="#c2e1ef" stroke="#222c33" stroke-width="0.8"/>
<circle cx="5.13" cy="-14.31" r="1.75" fill="#c2e1ef" stroke="#222c33" stroke-width="0.8"/>
<circle cx="9.72" cy="-11.69" r="1.75" fill="#c2e1ef" stroke="#222c33" stroke-width="0.8"/>
<circle cx="13.13" cy="-7.66" r="1.75" fill="#c2e1ef" stroke="#222c33" stroke-width="0.8"/>
<circle cx="14.96" cy="-2.71" r="1.75" fill="#c2e1ef" stroke="#222c33" stroke-width="0.8"/>
<circle r="10.90" fill="#fff" stroke="#1c1c1c" stroke-width="3.3"/>
<path d="M-8.2,2.2 A8.5,8.5 0 0 0 6.2,5.9" fill="none" stroke="#3a3a3a" stroke-width="0.7"/>
<g transform="rotate(35) scale(1.1)">
<path d="M-7.5,-0.3 C-7.6,-3.0 -4.5,-3.6 -1,-3.6 C3,-3.7 7.6,-3.9 7.6,0.2 C7.6,4.0 3.5,3.8 0,3.7 C-3.5,3.6 -7.4,3.0 -7.5,-0.3Z" fill="#62b52f" stroke="#151515" stroke-width="1.5"/>
<path d="M-6.6,0 C-5.5,-0.6 -4.2,0.4 -3,1.1 C-2,0.6 -1.2,1.4 -1.6,2.5 C-3,2.9 -4.5,2.7 -5.6,2.1 C-6.3,1.6 -6.6,0.8 -6.6,0Z" fill="#f7a61c"/>
<path d="M2.2,2.9 C3,1.4 4.2,1.2 5.5,2.0 C5,2.8 4,3.1 2.2,2.9Z" fill="#f7a61c"/>
</g></g>
<g transform="translate(118.60,42.80) scale(1.030)">
<line x1="11.33" y1="1.95" x2="14.39" y2="2.47" stroke="#1c1c1c" stroke-width="2.5"/>
<line x1="9.99" y1="5.70" x2="12.68" y2="7.24" stroke="#1c1c1c" stroke-width="2.5"/>
<line x1="7.43" y1="8.78" x2="9.44" y2="11.14" stroke="#1c1c1c" stroke-width="2.5"/>
<line x1="3.98" y1="10.79" x2="5.06" y2="13.70" stroke="#1c1c1c" stroke-width="2.5"/>
<line x1="0.05" y1="11.50" x2="0.07" y2="14.60" stroke="#1c1c1c" stroke-width="2.5"/>
<line x1="-3.88" y1="10.82" x2="-4.93" y2="13.74" stroke="#1c1c1c" stroke-width="2.5"/>
<line x1="-7.35" y1="8.84" x2="-9.33" y2="11.23" stroke="#1c1c1c" stroke-width="2.5"/>
<line x1="-9.93" y1="5.80" x2="-12.61" y2="7.36" stroke="#1c1c1c" stroke-width="2.5"/>
<line x1="-11.32" y1="2.05" x2="-14.37" y2="2.60" stroke="#1c1c1c" stroke-width="2.5"/>
<line x1="-11.33" y1="-1.95" x2="-14.39" y2="-2.47" stroke="#1c1c1c" stroke-width="2.5"/>
<line x1="-9.99" y1="-5.70" x2="-12.68" y2="-7.24" stroke="#1c1c1c" stroke-width="2.5"/>
<line x1="-7.43" y1="-8.78" x2="-9.44" y2="-11.14" stroke="#1c1c1c" stroke-width="2.5"/>
<line x1="-3.98" y1="-10.79" x2="-5.06" y2="-13.70" stroke="#1c1c1c" stroke-width="2.5"/>
<line x1="-0.05" y1="-11.50" x2="-0.07" y2="-14.60" stroke="#1c1c1c" stroke-width="2.5"/>
<line x1="3.88" y1="-10.82" x2="4.93" y2="-13.74" stroke="#1c1c1c" stroke-width="2.5"/>
<line x1="7.35" y1="-8.84" x2="9.33" y2="-11.23" stroke="#1c1c1c" stroke-width="2.5"/>
<line x1="9.93" y1="-5.80" x2="12.61" y2="-7.36" stroke="#1c1c1c" stroke-width="2.5"/>
<line x1="11.32" y1="-2.05" x2="14.37" y2="-2.60" stroke="#1c1c1c" stroke-width="2.5"/>
<circle cx="14.98" cy="2.57" r="1.75" fill="#c2e1ef" stroke="#222c33" stroke-width="0.8"/>
<circle cx="13.20" cy="7.54" r="1.75" fill="#c2e1ef" stroke="#222c33" stroke-width="0.8"/>
<circle cx="9.82" cy="11.60" r="1.75" fill="#c2e1ef" stroke="#222c33" stroke-width="0.8"/>
<circle cx="5.26" cy="14.26" r="1.75" fill="#c2e1ef" stroke="#222c33" stroke-width="0.8"/>
<circle cx="0.07" cy="15.20" r="1.75" fill="#c2e1ef" stroke="#222c33" stroke-width="0.8"/>
<circle cx="-5.13" cy="14.31" r="1.75" fill="#c2e1ef" stroke="#222c33" stroke-width="0.8"/>
<circle cx="-9.72" cy="11.69" r="1.75" fill="#c2e1ef" stroke="#222c33" stroke-width="0.8"/>
<circle cx="-13.13" cy="7.66" r="1.75" fill="#c2e1ef" stroke="#222c33" stroke-width="0.8"/>
<circle cx="-14.96" cy="2.71" r="1.75" fill="#c2e1ef" stroke="#222c33" stroke-width="0.8"/>
<circle cx="-14.98" cy="-2.57" r="1.75" fill="#c2e1ef" stroke="#222c33" stroke-width="0.8"/>
<circle cx="-13.20" cy="-7.54" r="1.75" fill="#c2e1ef" stroke="#222c33" stroke-width="0.8"/>
<circle cx="-9.82" cy="-11.60" r="1.75" fill="#c2e1ef" stroke="#222c33" stroke-width="0.8"/>
<circle cx="-5.26" cy="-14.26" r="1.75" fill="#c2e1ef" stroke="#222c33" stroke-width="0.8"/>
<circle cx="-0.07" cy="-15.20" r="1.75" fill="#c2e1ef" stroke="#222c33" stroke-width="0.8"/>
<circle cx="5.13" cy="-14.31" r="1.75" fill="#c2e1ef" stroke="#222c33" stroke-width="0.8"/>
<circle cx="9.72" cy="-11.69" r="1.75" fill="#c2e1ef" stroke="#222c33" stroke-width="0.8"/>
<circle cx="13.13" cy="-7.66" r="1.75" fill="#c2e1ef" stroke="#222c33" stroke-width="0.8"/>
<circle cx="14.96" cy="-2.71" r="1.75" fill="#c2e1ef" stroke="#222c33" stroke-width="0.8"/>
<circle r="10.90" fill="#fff" stroke="#1c1c1c" stroke-width="3.3"/>
<path d="M-8.2,2.2 A8.5,8.5 0 0 0 6.2,5.9" fill="none" stroke="#3a3a3a" stroke-width="0.7"/>
<g transform="rotate(35) scale(1.1)">
<path d="M-7.5,-0.3 C-7.6,-3.0 -4.5,-3.6 -1,-3.6 C3,-3.7 7.6,-3.9 7.6,0.2 C7.6,4.0 3.5,3.8 0,3.7 C-3.5,3.6 -7.4,3.0 -7.5,-0.3Z" fill="#62b52f" stroke="#151515" stroke-width="1.5"/>
<path d="M-6.6,0 C-5.5,-0.6 -4.2,0.4 -3,1.1 C-2,0.6 -1.2,1.4 -1.6,2.5 C-3,2.9 -4.5,2.7 -5.6,2.1 C-6.3,1.6 -6.6,0.8 -6.6,0Z" fill="#f7a61c"/>
<path d="M2.2,2.9 C3,1.4 4.2,1.2 5.5,2.0 C5,2.8 4,3.1 2.2,2.9Z" fill="#f7a61c"/>
</g></g>
<g transform="translate(89.60,79.30) scale(1.030)">
<line x1="11.33" y1="1.95" x2="14.39" y2="2.47" stroke="#1c1c1c" stroke-width="2.5"/>
<line x1="9.99" y1="5.70" x2="12.68" y2="7.24" stroke="#1c1c1c" stroke-width="2.5"/>
<line x1="7.43" y1="8.78" x2="9.44" y2="11.14" stroke="#1c1c1c" stroke-width="2.5"/>
<line x1="3.98" y1="10.79" x2="5.06" y2="13.70" stroke="#1c1c1c" stroke-width="2.5"/>
<line x1="0.05" y1="11.50" x2="0.07" y2="14.60" stroke="#1c1c1c" stroke-width="2.5"/>
<line x1="-3.88" y1="10.82" x2="-4.93" y2="13.74" stroke="#1c1c1c" stroke-width="2.5"/>
<line x1="-7.35" y1="8.84" x2="-9.33" y2="11.23" stroke="#1c1c1c" stroke-width="2.5"/>
<line x1="-9.93" y1="5.80" x2="-12.61" y2="7.36" stroke="#1c1c1c" stroke-width="2.5"/>
<line x1="-11.32" y1="2.05" x2="-14.37" y2="2.60" stroke="#1c1c1c" stroke-width="2.5"/>
<line x1="-11.33" y1="-1.95" x2="-14.39" y2="-2.47" stroke="#1c1c1c" stroke-width="2.5"/>
<line x1="-9.99" y1="-5.70" x2="-12.68" y2="-7.24" stroke="#1c1c1c" stroke-width="2.5"/>
<line x1="-7.43" y1="-8.78" x2="-9.44" y2="-11.14" stroke="#1c1c1c" stroke-width="2.5"/>
<line x1="-3.98" y1="-10.79" x2="-5.06" y2="-13.70" stroke="#1c1c1c" stroke-width="2.5"/>
<line x1="-0.05" y1="-11.50" x2="-0.07" y2="-14.60" stroke="#1c1c1c" stroke-width="2.5"/>
<line x1="3.88" y1="-10.82" x2="4.93" y2="-13.74" stroke="#1c1c1c" stroke-width="2.5"/>
<line x1="7.35" y1="-8.84" x2="9.33" y2="-11.23" stroke="#1c1c1c" stroke-width="2.5"/>
<line x1="9.93" y1="-5.80" x2="12.61" y2="-7.36" stroke="#1c1c1c" stroke-width="2.5"/>
<line x1="11.32" y1="-2.05" x2="14.37" y2="-2.60" stroke="#1c1c1c" stroke-width="2.5"/>
<circle cx="14.98" cy="2.57" r="1.75" fill="#c2e1ef" stroke="#222c33" stroke-width="0.8"/>
<circle cx="13.20" cy="7.54" r="1.75" fill="#c2e1ef" stroke="#222c33" stroke-width="0.8"/>
<circle cx="9.82" cy="11.60" r="1.75" fill="#c2e1ef" stroke="#222c33" stroke-width="0.8"/>
<circle cx="5.26" cy="14.26" r="1.75" fill="#c2e1ef" stroke="#222c33" stroke-width="0.8"/>
<circle cx="0.07" cy="15.20" r="1.75" fill="#c2e1ef" stroke="#222c33" stroke-width="0.8"/>
<circle cx="-5.13" cy="14.31" r="1.75" fill="#c2e1ef" stroke="#222c33" stroke-width="0.8"/>
<circle cx="-9.72" cy="11.69" r="1.75" fill="#c2e1ef" stroke="#222c33" stroke-width="0.8"/>
<circle cx="-13.13" cy="7.66" r="1.75" fill="#c2e1ef" stroke="#222c33" stroke-width="0.8"/>
<circle cx="-14.96" cy="2.71" r="1.75" fill="#c2e1ef" stroke="#222c33" stroke-width="0.8"/>
<circle cx="-14.98" cy="-2.57" r="1.75" fill="#c2e1ef" stroke="#222c33" stroke-width="0.8"/>
<circle cx="-13.20" cy="-7.54" r="1.75" fill="#c2e1ef" stroke="#222c33" stroke-width="0.8"/>
<circle cx="-9.82" cy="-11.60" r="1.75" fill="#c2e1ef" stroke="#222c33" stroke-width="0.8"/>
<circle cx="-5.26" cy="-14.26" r="1.75" fill="#c2e1ef" stroke="#222c33" stroke-width="0.8"/>
<circle cx="-0.07" cy="-15.20" r="1.75" fill="#c2e1ef" stroke="#222c33" stroke-width="0.8"/>
<circle cx="5.13" cy="-14.31" r="1.75" fill="#c2e1ef" stroke="#222c33" stroke-width="0.8"/>
<circle cx="9.72" cy="-11.69" r="1.75" fill="#c2e1ef" stroke="#222c33" stroke-width="0.8"/>
<circle cx="13.13" cy="-7.66" r="1.75" fill="#c2e1ef" stroke="#222c33" stroke-width="0.8"/>
<circle cx="14.96" cy="-2.71" r="1.75" fill="#c2e1ef" stroke="#222c33" stroke-width="0.8"/>
<circle r="10.90" fill="#fff" stroke="#1c1c1c" stroke-width="3.3"/>
<path d="M-8.2,2.2 A8.5,8.5 0 0 0 6.2,5.9" fill="none" stroke="#3a3a3a" stroke-width="0.7"/>
<g transform="rotate(35) scale(1.1)">
<path d="M-7.5,-0.3 C-7.6,-3.0 -4.5,-3.6 -1,-3.6 C3,-3.7 7.6,-3.9 7.6,0.2 C7.6,4.0 3.5,3.8 0,3.7 C-3.5,3.6 -7.4,3.0 -7.5,-0.3Z" fill="#62b52f" stroke="#151515" stroke-width="1.5"/>
<path d="M-6.6,0 C-5.5,-0.6 -4.2,0.4 -3,1.1 C-2,0.6 -1.2,1.4 -1.6,2.5 C-3,2.9 -4.5,2.7 -5.6,2.1 C-6.3,1.6 -6.6,0.8 -6.6,0Z" fill="#f7a61c"/>
<path d="M2.2,2.9 C3,1.4 4.2,1.2 5.5,2.0 C5,2.8 4,3.1 2.2,2.9Z" fill="#f7a61c"/>
</g></g>
<g transform="translate(160.20,74.40) scale(1.030)">
<line x1="11.33" y1="1.95" x2="14.39" y2="2.47" stroke="#1c1c1c" stroke-width="2.5"/>
<line x1="9.99" y1="5.70" x2="12.68" y2="7.24" stroke="#1c1c1c" stroke-width="2.5"/>
<line x1="7.43" y1="8.78" x2="9.44" y2="11.14" stroke="#1c1c1c" stroke-width="2.5"/>
<line x1="3.98" y1="10.79" x2="5.06" y2="13.70" stroke="#1c1c1c" stroke-width="2.5"/>
<line x1="0.05" y1="11.50" x2="0.07" y2="14.60" stroke="#1c1c1c" stroke-width="2.5"/>
<line x1="-3.88" y1="10.82" x2="-4.93" y2="13.74" stroke="#1c1c1c" stroke-width="2.5"/>
<line x1="-7.35" y1="8.84" x2="-9.33" y2="11.23" stroke="#1c1c1c" stroke-width="2.5"/>
<line x1="-9.93" y1="5.80" x2="-12.61" y2="7.36" stroke="#1c1c1c" stroke-width="2.5"/>
<line x1="-11.32" y1="2.05" x2="-14.37" y2="2.60" stroke="#1c1c1c" stroke-width="2.5"/>
<line x1="-11.33" y1="-1.95" x2="-14.39" y2="-2.47" stroke="#1c1c1c" stroke-width="2.5"/>
<line x1="-9.99" y1="-5.70" x2="-12.68" y2="-7.24" stroke="#1c1c1c" stroke-width="2.5"/>
<line x1="-7.43" y1="-8.78" x2="-9.44" y2="-11.14" stroke="#1c1c1c" stroke-width="2.5"/>
<line x1="-3.98" y1="-10.79" x2="-5.06" y2="-13.70" stroke="#1c1c1c" stroke-width="2.5"/>
<line x1="-0.05" y1="-11.50" x2="-0.07" y2="-14.60" stroke="#1c1c1c" stroke-width="2.5"/>
<line x1="3.88" y1="-10.82" x2="4.93" y2="-13.74" stroke="#1c1c1c" stroke-width="2.5"/>
<line x1="7.35" y1="-8.84" x2="9.33" y2="-11.23" stroke="#1c1c1c" stroke-width="2.5"/>
<line x1="9.93" y1="-5.80" x2="12.61" y2="-7.36" stroke="#1c1c1c" stroke-width="2.5"/>
<line x1="11.32" y1="-2.05" x2="14.37" y2="-2.60" stroke="#1c1c1c" stroke-width="2.5"/>
<circle cx="14.98" cy="2.57" r="1.75" fill="#c2e1ef" stroke="#222c33" stroke-width="0.8"/>
<circle cx="13.20" cy="7.54" r="1.75" fill="#c2e1ef" stroke="#222c33" stroke-width="0.8"/>
<circle cx="9.82" cy="11.60" r="1.75" fill="#c2e1ef" stroke="#222c33" stroke-width="0.8"/>
<circle cx="5.26" cy="14.26" r="1.75" fill="#c2e1ef" stroke="#222c33" stroke-width="0.8"/>
<circle cx="0.07" cy="15.20" r="1.75" fill="#c2e1ef" stroke="#222c33" stroke-width="0.8"/>
<circle cx="-5.13" cy="14.31" r="1.75" fill="#c2e1ef" stroke="#222c33" stroke-width="0.8"/>
<circle cx="-9.72" cy="11.69" r="1.75" fill="#c2e1ef" stroke="#222c33" stroke-width="0.8"/>
<circle cx="-13.13" cy="7.66" r="1.75" fill="#c2e1ef" stroke="#222c33" stroke-width="0.8"/>
<circle cx="-14.96" cy="2.71" r="1.75" fill="#c2e1ef" stroke="#222c33" stroke-width="0.8"/>
<circle cx="-14.98" cy="-2.57" r="1.75" fill="#c2e1ef" stroke="#222c33" stroke-width="0.8"/>
<circle cx="-13.20" cy="-7.54" r="1.75" fill="#c2e1ef" stroke="#222c33" stroke-width="0.8"/>
<circle cx="-9.82" cy="-11.60" r="1.75" fill="#c2e1ef" stroke="#222c33" stroke-width="0.8"/>
<circle cx="-5.26" cy="-14.26" r="1.75" fill="#c2e1ef" stroke="#222c33" stroke-width="0.8"/>
<circle cx="-0.07" cy="-15.20" r="1.75" fill="#c2e1ef" stroke="#222c33" stroke-width="0.8"/>
<circle cx="5.13" cy="-14.31" r="1.75" fill="#c2e1ef" stroke="#222c33" stroke-width="0.8"/>
<circle cx="9.72" cy="-11.69" r="1.75" fill="#c2e1ef" stroke="#222c33" stroke-width="0.8"/>
<circle cx="13.13" cy="-7.66" r="1.75" fill="#c2e1ef" stroke="#222c33" stroke-width="0.8"/>
<circle cx="14.96" cy="-2.71" r="1.75" fill="#c2e1ef" stroke="#222c33" stroke-width="0.8"/>
<circle r="10.90" fill="#fff" stroke="#1c1c1c" stroke-width="3.3"/>
<path d="M-8.2,2.2 A8.5,8.5 0 0 0 6.2,5.9" fill="none" stroke="#3a3a3a" stroke-width="0.7"/>
<g transform="rotate(35) scale(1.1)">
<path d="M-7.5,-0.3 C-7.6,-3.0 -4.5,-3.6 -1,-3.6 C3,-3.7 7.6,-3.9 7.6,0.2 C7.6,4.0 3.5,3.8 0,3.7 C-3.5,3.6 -7.4,3.0 -7.5,-0.3Z" fill="#62b52f" stroke="#151515" stroke-width="1.5"/>
<path d="M-6.6,0 C-5.5,-0.6 -4.2,0.4 -3,1.1 C-2,0.6 -1.2,1.4 -1.6,2.5 C-3,2.9 -4.5,2.7 -5.6,2.1 C-6.3,1.6 -6.6,0.8 -6.6,0Z" fill="#f7a61c"/>
<path d="M2.2,2.9 C3,1.4 4.2,1.2 5.5,2.0 C5,2.8 4,3.1 2.2,2.9Z" fill="#f7a61c"/>
</g></g>
<g transform="translate(84.40,152.40) scale(1.030)">
<line x1="11.33" y1="1.95" x2="14.39" y2="2.47" stroke="#1c1c1c" stroke-width="2.5"/>
<line x1="9.99" y1="5.70" x2="12.68" y2="7.24" stroke="#1c1c1c" stroke-width="2.5"/>
<line x1="7.43" y1="8.78" x2="9.44" y2="11.14" stroke="#1c1c1c" stroke-width="2.5"/>
<line x1="3.98" y1="10.79" x2="5.06" y2="13.70" stroke="#1c1c1c" stroke-width="2.5"/>
<line x1="0.05" y1="11.50" x2="0.07" y2="14.60" stroke="#1c1c1c" stroke-width="2.5"/>
<line x1="-3.88" y1="10.82" x2="-4.93" y2="13.74" stroke="#1c1c1c" stroke-width="2.5"/>
<line x1="-7.35" y1="8.84" x2="-9.33" y2="11.23" stroke="#1c1c1c" stroke-width="2.5"/>
<line x1="-9.93" y1="5.80" x2="-12.61" y2="7.36" stroke="#1c1c1c" stroke-width="2.5"/>
<line x1="-11.32" y1="2.05" x2="-14.37" y2="2.60" stroke="#1c1c1c" stroke-width="2.5"/>
<line x1="-11.33" y1="-1.95" x2="-14.39" y2="-2.47" stroke="#1c1c1c" stroke-width="2.5"/>
<line x1="-9.99" y1="-5.70" x2="-12.68" y2="-7.24" stroke="#1c1c1c" stroke-width="2.5"/>
<line x1="-7.43" y1="-8.78" x2="-9.44" y2="-11.14" stroke="#1c1c1c" stroke-width="2.5"/>
<line x1="-3.98" y1="-10.79" x2="-5.06" y2="-13.70" stroke="#1c1c1c" stroke-width="2.5"/>
<line x1="-0.05" y1="-11.50" x2="-0.07" y2="-14.60" stroke="#1c1c1c" stroke-width="2.5"/>
<line x1="3.88" y1="-10.82" x2="4.93" y2="-13.74" stroke="#1c1c1c" stroke-width="2.5"/>
<line x1="7.35" y1="-8.84" x2="9.33" y2="-11.23" stroke="#1c1c1c" stroke-width="2.5"/>
<line x1="9.93" y1="-5.80" x2="12.61" y2="-7.36" stroke="#1c1c1c" stroke-width="2.5"/>
<line x1="11.32" y1="-2.05" x2="14.37" y2="-2.60" stroke="#1c1c1c" stroke-width="2.5"/>
<circle cx="14.98" cy="2.57" r="1.75" fill="#c2e1ef" stroke="#222c33" stroke-width="0.8"/>
<circle cx="13.20" cy="7.54" r="1.75" fill="#c2e1ef" stroke="#222c33" stroke-width="0.8"/>
<circle cx="9.82" cy="11.60" r="1.75" fill="#c2e1ef" stroke="#222c33" stroke-width="0.8"/>
<circle cx="5.26" cy="14.26" r="1.75" fill="#c2e1ef" stroke="#222c33" stroke-width="0.8"/>
<circle cx="0.07" cy="15.20" r="1.75" fill="#c2e1ef" stroke="#222c33" stroke-width="0.8"/>
<circle cx="-5.13" cy="14.31" r="1.75" fill="#c2e1ef" stroke="#222c33" stroke-width="0.8"/>
<circle cx="-9.72" cy="11.69" r="1.75" fill="#c2e1ef" stroke="#222c33" stroke-width="0.8"/>
<circle cx="-13.13" cy="7.66" r="1.75" fill="#c2e1ef" stroke="#222c33" stroke-width="0.8"/>
<circle cx="-14.96" cy="2.71" r="1.75" fill="#c2e1ef" stroke="#222c33" stroke-width="0.8"/>
<circle cx="-14.98" cy="-2.57" r="1.75" fill="#c2e1ef" stroke="#222c33" stroke-width="0.8"/>
<circle cx="-13.20" cy="-7.54" r="1.75" fill="#c2e1ef" stroke="#222c33" stroke-width="0.8"/>
<circle cx="-9.82" cy="-11.60" r="1.75" fill="#c2e1ef" stroke="#222c33" stroke-width="0.8"/>
<circle cx="-5.26" cy="-14.26" r="1.75" fill="#c2e1ef" stroke="#222c33" stroke-width="0.8"/>
<circle cx="-0.07" cy="-15.20" r="1.75" fill="#c2e1ef" stroke="#222c33" stroke-width="0.8"/>
<circle cx="5.13" cy="-14.31" r="1.75" fill="#c2e1ef" stroke="#222c33" stroke-width="0.8"/>
<circle cx="9.72" cy="-11.69" r="1.75" fill="#c2e1ef" stroke="#222c33" stroke-width="0.8"/>
<circle cx="13.13" cy="-7.66" r="1.75" fill="#c2e1ef" stroke="#222c33" stroke-width="0.8"/>
<circle cx="14.96" cy="-2.71" r="1.75" fill="#c2e1ef" stroke="#222c33" stroke-width="0.8"/>
<circle r="10.90" fill="#fff" stroke="#1c1c1c" stroke-width="3.3"/>
<path d="M-8.2,2.2 A8.5,8.5 0 0 0 6.2,5.9" fill="none" stroke="#3a3a3a" stroke-width="0.7"/>
<g transform="rotate(35) scale(1.1)">
<path d="M-7.5,-0.3 C-7.6,-3.0 -4.5,-3.6 -1,-3.6 C3,-3.7 7.6,-3.9 7.6,0.2 C7.6,4.0 3.5,3.8 0,3.7 C-3.5,3.6 -7.4,3.0 -7.5,-0.3Z" fill="#62b52f" stroke="#151515" stroke-width="1.5"/>
<path d="M-6.6,0 C-5.5,-0.6 -4.2,0.4 -3,1.1 C-2,0.6 -1.2,1.4 -1.6,2.5 C-3,2.9 -4.5,2.7 -5.6,2.1 C-6.3,1.6 -6.6,0.8 -6.6,0Z" fill="#f7a61c"/>
<path d="M2.2,2.9 C3,1.4 4.2,1.2 5.5,2.0 C5,2.8 4,3.1 2.2,2.9Z" fill="#f7a61c"/>
</g></g>
<g transform="translate(609.60,77.60) scale(1.360)">
<line x1="11.33" y1="1.95" x2="14.39" y2="2.47" stroke="#1c1c1c" stroke-width="1.5"/>
<line x1="9.99" y1="5.70" x2="12.68" y2="7.24" stroke="#1c1c1c" stroke-width="1.5"/>
<line x1="7.43" y1="8.78" x2="9.44" y2="11.14" stroke="#1c1c1c" stroke-width="1.5"/>
<line x1="3.98" y1="10.79" x2="5.06" y2="13.70" stroke="#1c1c1c" stroke-width="1.5"/>
<line x1="0.05" y1="11.50" x2="0.07" y2="14.60" stroke="#1c1c1c" stroke-width="1.5"/>
<line x1="-3.88" y1="10.82" x2="-4.93" y2="13.74" stroke="#1c1c1c" stroke-width="1.5"/>
<line x1="-7.35" y1="8.84" x2="-9.33" y2="11.23" stroke="#1c1c1c" stroke-width="1.5"/>
<line x1="-9.93" y1="5.80" x2="-12.61" y2="7.36" stroke="#1c1c1c" stroke-width="1.5"/>
<line x1="-11.32" y1="2.05" x2="-14.37" y2="2.60" stroke="#1c1c1c" stroke-width="1.5"/>
<line x1="-11.33" y1="-1.95" x2="-14.39" y2="-2.47" stroke="#1c1c1c" stroke-width="1.5"/>
<line x1="-9.99" y1="-5.70" x2="-12.68" y2="-7.24" stroke="#1c1c1c" stroke-width="1.5"/>
<line x1="-7.43" y1="-8.78" x2="-9.44" y2="-11.14" stroke="#1c1c1c" stroke-width="1.5"/>
<line x1="-3.98" y1="-10.79" x2="-5.06" y2="-13.70" stroke="#1c1c1c" stroke-width="1.5"/>
<line x1="-0.05" y1="-11.50" x2="-0.07" y2="-14.60" stroke="#1c1c1c" stroke-width="1.5"/>
<line x1="3.88" y1="-10.82" x2="4.93" y2="-13.74" stroke="#1c1c1c" stroke-width="1.5"/>
<line x1="7.35" y1="-8.84" x2="9.33" y2="-11.23" stroke="#1c1c1c" stroke-width="1.5"/>
<line x1="9.93" y1="-5.80" x2="12.61" y2="-7.36" stroke="#1c1c1c" stroke-width="1.5"/>
<line x1="11.32" y1="-2.05" x2="14.37" y2="-2.60" stroke="#1c1c1c" stroke-width="1.5"/>
<circle cx="14.98" cy="2.57" r="1.6" fill="#c2e1ef" stroke="#222c33" stroke-width="0.6"/>
<circle cx="13.20" cy="7.54" r="1.6" fill="#c2e1ef" stroke="#222c33" stroke-width="0.6"/>
<circle cx="9.82" cy="11.60" r="1.6" fill="#c2e1ef" stroke="#222c33" stroke-width="0.6"/>
<circle cx="5.26" cy="14.26" r="1.6" fill="#c2e1ef" stroke="#222c33" stroke-width="0.6"/>
<circle cx="0.07" cy="15.20" r="1.6" fill="#c2e1ef" stroke="#222c33" stroke-width="0.6"/>
<circle cx="-5.13" cy="14.31" r="1.6" fill="#c2e1ef" stroke="#222c33" stroke-width="0.6"/>
<circle cx="-9.72" cy="11.69" r="1.6" fill="#c2e1ef" stroke="#222c33" stroke-width="0.6"/>
<circle cx="-13.13" cy="7.66" r="1.6" fill="#c2e1ef" stroke="#222c33" stroke-width="0.6"/>
<circle cx="-14.96" cy="2.71" r="1.6" fill="#c2e1ef" stroke="#222c33" stroke-width="0.6"/>
<circle cx="-14.98" cy="-2.57" r="1.6" fill="#c2e1ef" stroke="#222c33" stroke-width="0.6"/>
<circle cx="-13.20" cy="-7.54" r="1.6" fill="#c2e1ef" stroke="#222c33" stroke-width="0.6"/>
<circle cx="-9.82" cy="-11.60" r="1.6" fill="#c2e1ef" stroke="#222c33" stroke-width="0.6"/>
<circle cx="-5.26" cy="-14.26" r="1.6" fill="#c2e1ef" stroke="#222c33" stroke-width="0.6"/>
<circle cx="-0.07" cy="-15.20" r="1.6" fill="#c2e1ef" stroke="#222c33" stroke-width="0.6"/>
<circle cx="5.13" cy="-14.31" r="1.6" fill="#c2e1ef" stroke="#222c33" stroke-width="0.6"/>
<circle cx="9.72" cy="-11.69" r="1.6" fill="#c2e1ef" stroke="#222c33" stroke-width="0.6"/>
<circle cx="13.13" cy="-7.66" r="1.6" fill="#c2e1ef" stroke="#222c33" stroke-width="0.6"/>
<circle cx="14.96" cy="-2.71" r="1.6" fill="#c2e1ef" stroke="#222c33" stroke-width="0.6"/>
<circle r="11.05" fill="#fff" stroke="#1c1c1c" stroke-width="3.0"/>
<path d="M-8.2,2.2 A8.5,8.5 0 0 0 6.2,5.9" fill="none" stroke="#3a3a3a" stroke-width="0.7"/>
<g transform="rotate(38) scale(1.08)">
<path d="M-7.5,-0.3 C-7.6,-3.0 -4.5,-3.6 -1,-3.6 C3,-3.7 7.6,-3.9 7.6,0.2 C7.6,4.0 3.5,3.8 0,3.7 C-3.5,3.6 -7.4,3.0 -7.5,-0.3Z" fill="#62b52f" stroke="#151515" stroke-width="1.5"/>
<path d="M-6.6,0 C-5.5,-0.6 -4.2,0.4 -3,1.1 C-2,0.6 -1.2,1.4 -1.6,2.5 C-3,2.9 -4.5,2.7 -5.6,2.1 C-6.3,1.6 -6.6,0.8 -6.6,0Z" fill="#f7a61c"/>
<path d="M2.2,2.9 C3,1.4 4.2,1.2 5.5,2.0 C5,2.8 4,3.1 2.2,2.9Z" fill="#f7a61c"/>
</g></g>
<g transform="translate(672.70,98.40) scale(1.360)">
<line x1="11.33" y1="1.95" x2="14.39" y2="2.47" stroke="#1c1c1c" stroke-width="1.5"/>
<line x1="9.99" y1="5.70" x2="12.68" y2="7.24" stroke="#1c1c1c" stroke-width="1.5"/>
<line x1="7.43" y1="8.78" x2="9.44" y2="11.14" stroke="#1c1c1c" stroke-width="1.5"/>
<line x1="3.98" y1="10.79" x2="5.06" y2="13.70" stroke="#1c1c1c" stroke-width="1.5"/>
<line x1="0.05" y1="11.50" x2="0.07" y2="14.60" stroke="#1c1c1c" stroke-width="1.5"/>
<line x1="-3.88" y1="10.82" x2="-4.93" y2="13.74" stroke="#1c1c1c" stroke-width="1.5"/>
<line x1="-7.35" y1="8.84" x2="-9.33" y2="11.23" stroke="#1c1c1c" stroke-width="1.5"/>
<line x1="-9.93" y1="5.80" x2="-12.61" y2="7.36" stroke="#1c1c1c" stroke-width="1.5"/>
<line x1="-11.32" y1="2.05" x2="-14.37" y2="2.60" stroke="#1c1c1c" stroke-width="1.5"/>
<line x1="-11.33" y1="-1.95" x2="-14.39" y2="-2.47" stroke="#1c1c1c" stroke-width="1.5"/>
<line x1="-9.99" y1="-5.70" x2="-12.68" y2="-7.24" stroke="#1c1c1c" stroke-width="1.5"/>
<line x1="-7.43" y1="-8.78" x2="-9.44" y2="-11.14" stroke="#1c1c1c" stroke-width="1.5"/>
<line x1="-3.98" y1="-10.79" x2="-5.06" y2="-13.70" stroke="#1c1c1c" stroke-width="1.5"/>
<line x1="-0.05" y1="-11.50" x2="-0.07" y2="-14.60" stroke="#1c1c1c" stroke-width="1.5"/>
<line x1="3.88" y1="-10.82" x2="4.93" y2="-13.74" stroke="#1c1c1c" stroke-width="1.5"/>
<line x1="7.35" y1="-8.84" x2="9.33" y2="-11.23" stroke="#1c1c1c" stroke-width="1.5"/>
<line x1="9.93" y1="-5.80" x2="12.61" y2="-7.36" stroke="#1c1c1c" stroke-width="1.5"/>
<line x1="11.32" y1="-2.05" x2="14.37" y2="-2.60" stroke="#1c1c1c" stroke-width="1.5"/>
<circle cx="14.98" cy="2.57" r="1.6" fill="#c2e1ef" stroke="#222c33" stroke-width="0.6"/>
<circle cx="13.20" cy="7.54" r="1.6" fill="#c2e1ef" stroke="#222c33" stroke-width="0.6"/>
<circle cx="9.82" cy="11.60" r="1.6" fill="#c2e1ef" stroke="#222c33" stroke-width="0.6"/>
<circle cx="5.26" cy="14.26" r="1.6" fill="#c2e1ef" stroke="#222c33" stroke-width="0.6"/>
<circle cx="0.07" cy="15.20" r="1.6" fill="#c2e1ef" stroke="#222c33" stroke-width="0.6"/>
<circle cx="-5.13" cy="14.31" r="1.6" fill="#c2e1ef" stroke="#222c33" stroke-width="0.6"/>
<circle cx="-9.72" cy="11.69" r="1.6" fill="#c2e1ef" stroke="#222c33" stroke-width="0.6"/>
<circle cx="-13.13" cy="7.66" r="1.6" fill="#c2e1ef" stroke="#222c33" stroke-width="0.6"/>
<circle cx="-14.96" cy="2.71" r="1.6" fill="#c2e1ef" stroke="#222c33" stroke-width="0.6"/>
<circle cx="-14.98" cy="-2.57" r="1.6" fill="#c2e1ef" stroke="#222c33" stroke-width="0.6"/>
<circle cx="-13.20" cy="-7.54" r="1.6" fill="#c2e1ef" stroke="#222c33" stroke-width="0.6"/>
<circle cx="-9.82" cy="-11.60" r="1.6" fill="#c2e1ef" stroke="#222c33" stroke-width="0.6"/>
<circle cx="-5.26" cy="-14.26" r="1.6" fill="#c2e1ef" stroke="#222c33" stroke-width="0.6"/>
<circle cx="-0.07" cy="-15.20" r="1.6" fill="#c2e1ef" stroke="#222c33" stroke-width="0.6"/>
<circle cx="5.13" cy="-14.31" r="1.6" fill="#c2e1ef" stroke="#222c33" stroke-width="0.6"/>
<circle cx="9.72" cy="-11.69" r="1.6" fill="#c2e1ef" stroke="#222c33" stroke-width="0.6"/>
<circle cx="13.13" cy="-7.66" r="1.6" fill="#c2e1ef" stroke="#222c33" stroke-width="0.6"/>
<circle cx="14.96" cy="-2.71" r="1.6" fill="#c2e1ef" stroke="#222c33" stroke-width="0.6"/>
<circle r="11.05" fill="#fff" stroke="#1c1c1c" stroke-width="3.0"/>
<path d="M-8.2,2.2 A8.5,8.5 0 0 0 6.2,5.9" fill="none" stroke="#3a3a3a" stroke-width="0.7"/>
<g transform="rotate(38) scale(1.08)">
<path d="M-7.5,-0.3 C-7.6,-3.0 -4.5,-3.6 -1,-3.6 C3,-3.7 7.6,-3.9 7.6,0.2 C7.6,4.0 3.5,3.8 0,3.7 C-3.5,3.6 -7.4,3.0 -7.5,-0.3Z" fill="#62b52f" stroke="#151515" stroke-width="1.5"/>
<path d="M-6.6,0 C-5.5,-0.6 -4.2,0.4 -3,1.1 C-2,0.6 -1.2,1.4 -1.6,2.5 C-3,2.9 -4.5,2.7 -5.6,2.1 C-6.3,1.6 -6.6,0.8 -6.6,0Z" fill="#f7a61c"/>
<path d="M2.2,2.9 C3,1.4 4.2,1.2 5.5,2.0 C5,2.8 4,3.1 2.2,2.9Z" fill="#f7a61c"/>
</g></g>
<line x1="467.08" y1="48.40" x2="465.55" y2="53.37" stroke="#151515" stroke-width="1.9"/><circle cx="467.08" cy="48.40" r="2.9" fill="#c6e4f0" stroke="#1c242a" stroke-width="0.85"/>
<line x1="472.48" y1="50.11" x2="470.86" y2="55.05" stroke="#151515" stroke-width="1.9"/><circle cx="472.48" cy="50.11" r="2.9" fill="#c6e4f0" stroke="#1c242a" stroke-width="0.85"/>
<line x1="477.83" y1="51.90" x2="476.13" y2="56.82" stroke="#151515" stroke-width="1.9"/><circle cx="477.83" cy="51.90" r="2.9" fill="#c6e4f0" stroke="#1c242a" stroke-width="0.85"/>
<line x1="483.14" y1="53.79" x2="481.36" y2="58.67" stroke="#151515" stroke-width="1.9"/><circle cx="483.14" cy="53.79" r="2.9" fill="#c6e4f0" stroke="#1c242a" stroke-width="0.85"/>
<line x1="488.40" y1="55.76" x2="486.53" y2="60.62" stroke="#151515" stroke-width="1.9"/><circle cx="488.40" cy="55.76" r="2.9" fill="#c6e4f0" stroke="#1c242a" stroke-width="0.85"/>
<line x1="493.61" y1="57.82" x2="491.66" y2="62.64" stroke="#151515" stroke-width="1.9"/><circle cx="493.61" cy="57.82" r="2.9" fill="#c6e4f0" stroke="#1c242a" stroke-width="0.85"/>
<line x1="498.77" y1="59.97" x2="496.73" y2="64.75" stroke="#151515" stroke-width="1.9"/><circle cx="498.77" cy="59.97" r="2.9" fill="#c6e4f0" stroke="#1c242a" stroke-width="0.85"/>
<line x1="503.87" y1="62.19" x2="501.75" y2="66.94" stroke="#151515" stroke-width="1.9"/><circle cx="503.87" cy="62.19" r="2.9" fill="#c6e4f0" stroke="#1c242a" stroke-width="0.85"/>
<line x1="508.92" y1="64.51" x2="506.71" y2="69.21" stroke="#151515" stroke-width="1.9"/><circle cx="508.92" cy="64.51" r="2.9" fill="#c6e4f0" stroke="#1c242a" stroke-width="0.85"/>
<line x1="513.91" y1="66.90" x2="511.62" y2="71.57" stroke="#151515" stroke-width="1.9"/><circle cx="513.91" cy="66.90" r="2.9" fill="#c6e4f0" stroke="#1c242a" stroke-width="0.85"/>
<line x1="419.59" y1="493.30" x2="418.79" y2="488.17" stroke="#151515" stroke-width="1.9"/><circle cx="419.59" cy="493.30" r="2.9" fill="#c6e4f0" stroke="#1c242a" stroke-width="0.85"/>
<line x1="425.18" y1="492.39" x2="424.30" y2="487.26" stroke="#151515" stroke-width="1.9"/><circle cx="425.18" cy="492.39" r="2.9" fill="#c6e4f0" stroke="#1c242a" stroke-width="0.85"/>
<line x1="430.76" y1="491.38" x2="429.79" y2="486.27" stroke="#151515" stroke-width="1.9"/><circle cx="430.76" cy="491.38" r="2.9" fill="#c6e4f0" stroke="#1c242a" stroke-width="0.85"/>
<line x1="436.31" y1="490.28" x2="435.26" y2="485.19" stroke="#151515" stroke-width="1.9"/><circle cx="436.31" cy="490.28" r="2.9" fill="#c6e4f0" stroke="#1c242a" stroke-width="0.85"/>
<line x1="441.83" y1="489.09" x2="440.70" y2="484.02" stroke="#151515" stroke-width="1.9"/><circle cx="441.83" cy="489.09" r="2.9" fill="#c6e4f0" stroke="#1c242a" stroke-width="0.85"/>
<line x1="447.32" y1="487.81" x2="446.10" y2="482.76" stroke="#151515" stroke-width="1.9"/><circle cx="447.32" cy="487.81" r="2.9" fill="#c6e4f0" stroke="#1c242a" stroke-width="0.85"/>
<line x1="452.78" y1="486.45" x2="451.48" y2="481.42" stroke="#151515" stroke-width="1.9"/><circle cx="452.78" cy="486.45" r="2.9" fill="#c6e4f0" stroke="#1c242a" stroke-width="0.85"/>
<line x1="458.21" y1="485.00" x2="456.82" y2="479.98" stroke="#151515" stroke-width="1.9"/><circle cx="458.21" cy="485.00" r="2.9" fill="#c6e4f0" stroke="#1c242a" stroke-width="0.85"/>
<line x1="463.59" y1="483.45" x2="462.12" y2="478.47" stroke="#151515" stroke-width="1.9"/><circle cx="463.59" cy="483.45" r="2.9" fill="#c6e4f0" stroke="#1c242a" stroke-width="0.85"/>
<line x1="468.94" y1="481.83" x2="467.38" y2="476.86" stroke="#151515" stroke-width="1.9"/><circle cx="468.94" cy="481.83" r="2.9" fill="#c6e4f0" stroke="#1c242a" stroke-width="0.85"/>
<line x1="482.30" y1="477.31" x2="480.54" y2="472.42" stroke="#151515" stroke-width="1.9"/><circle cx="482.30" cy="477.31" r="2.9" fill="#c6e4f0" stroke="#1c242a" stroke-width="0.85"/>
<line x1="487.67" y1="475.32" x2="485.82" y2="470.46" stroke="#151515" stroke-width="1.9"/><circle cx="487.67" cy="475.32" r="2.9" fill="#c6e4f0" stroke="#1c242a" stroke-width="0.85"/>
<line x1="492.99" y1="473.23" x2="491.05" y2="468.41" stroke="#151515" stroke-width="1.9"/><circle cx="492.99" cy="473.23" r="2.9" fill="#c6e4f0" stroke="#1c242a" stroke-width="0.85"/>
<line x1="498.25" y1="471.05" x2="496.22" y2="466.27" stroke="#151515" stroke-width="1.9"/><circle cx="498.25" cy="471.05" r="2.9" fill="#c6e4f0" stroke="#1c242a" stroke-width="0.85"/>
<line x1="503.46" y1="468.79" x2="501.34" y2="464.04" stroke="#151515" stroke-width="1.9"/><circle cx="503.46" cy="468.79" r="2.9" fill="#c6e4f0" stroke="#1c242a" stroke-width="0.85"/>
<line x1="508.61" y1="466.44" x2="506.41" y2="461.73" stroke="#151515" stroke-width="1.9"/><circle cx="508.61" cy="466.44" r="2.9" fill="#c6e4f0" stroke="#1c242a" stroke-width="0.85"/>
<line x1="513.69" y1="464.00" x2="511.41" y2="459.34" stroke="#151515" stroke-width="1.9"/><circle cx="513.69" cy="464.00" r="2.9" fill="#c6e4f0" stroke="#1c242a" stroke-width="0.85"/>
<line x1="518.72" y1="461.48" x2="516.34" y2="456.86" stroke="#151515" stroke-width="1.9"/><circle cx="518.72" cy="461.48" r="2.9" fill="#c6e4f0" stroke="#1c242a" stroke-width="0.85"/>
<line x1="523.68" y1="458.88" x2="521.22" y2="454.30" stroke="#151515" stroke-width="1.9"/><circle cx="523.68" cy="458.88" r="2.9" fill="#c6e4f0" stroke="#1c242a" stroke-width="0.85"/>
<line x1="528.57" y1="456.19" x2="526.02" y2="451.66" stroke="#151515" stroke-width="1.9"/><circle cx="528.57" cy="456.19" r="2.9" fill="#c6e4f0" stroke="#1c242a" stroke-width="0.85"/>
<line x1="622.70" y1="171.20" x2="619.76" y2="174.47" stroke="#151515" stroke-width="1.9"/><circle cx="622.70" cy="171.20" r="2.9" fill="#c6e4f0" stroke="#1c242a" stroke-width="0.85"/>
<line x1="626.60" y1="174.70" x2="623.47" y2="177.79" stroke="#151515" stroke-width="1.9"/><circle cx="626.60" cy="174.70" r="2.9" fill="#c6e4f0" stroke="#1c242a" stroke-width="0.85"/>
<line x1="630.30" y1="178.90" x2="626.55" y2="181.20" stroke="#151515" stroke-width="1.9"/><circle cx="630.30" cy="178.90" r="2.9" fill="#c6e4f0" stroke="#1c242a" stroke-width="0.85"/>
<line x1="632.30" y1="184.00" x2="628.08" y2="185.24" stroke="#151515" stroke-width="1.9"/><circle cx="632.30" cy="184.00" r="2.9" fill="#c6e4f0" stroke="#1c242a" stroke-width="0.85"/>
<line x1="633.40" y1="189.50" x2="629.18" y2="190.76" stroke="#151515" stroke-width="1.9"/><circle cx="633.40" cy="189.50" r="2.9" fill="#c6e4f0" stroke="#1c242a" stroke-width="0.85"/>
<line x1="635.40" y1="194.40" x2="631.51" y2="196.46" stroke="#151515" stroke-width="1.9"/><circle cx="635.40" cy="194.40" r="2.9" fill="#c6e4f0" stroke="#1c242a" stroke-width="0.85"/>
<line x1="638.50" y1="199.10" x2="634.46" y2="200.85" stroke="#151515" stroke-width="1.9"/><circle cx="638.50" cy="199.10" r="2.9" fill="#c6e4f0" stroke="#1c242a" stroke-width="0.85"/>
<line x1="640.00" y1="205.00" x2="635.84" y2="206.44" stroke="#151515" stroke-width="1.9"/><circle cx="640.00" cy="205.00" r="2.9" fill="#c6e4f0" stroke="#1c242a" stroke-width="0.85"/>
<line x1="642.40" y1="210.40" x2="638.25" y2="211.86" stroke="#151515" stroke-width="1.9"/><circle cx="642.40" cy="210.40" r="2.9" fill="#c6e4f0" stroke="#1c242a" stroke-width="0.85"/>
<line x1="643.90" y1="216.10" x2="639.64" y2="217.22" stroke="#151515" stroke-width="1.9"/><circle cx="643.90" cy="216.10" r="2.9" fill="#c6e4f0" stroke="#1c242a" stroke-width="0.85"/>
<path d="M531,79 C536,77 545,76.5 553,77 C562,78 570,85 575,93 C578,98 580,105 579.5,112 L560,104 Z" fill="#f5f8f0" stroke="none"/>
<path d="M538,91 L549,86 L560,87.5 L568,94 L574,108 L579,112 L566,116 L545,108Z" fill="#ece5d3" stroke="none"/>
<path d="M539.7,92.5 C543,89 547,86.8 552,86.2 C558,85.6 562,88 565.5,91.5 C569.5,95.5 572.5,101.5 573.6,107.5" fill="none" stroke="#1c1c1c" stroke-width="2.3" stroke-linecap="round"/>
<path d="M549,88.6 C556,86.5 562,89.5 566,94 C569,97.5 571,101 572,105.5 C566,100 558,93.5 549,88.6Z" fill="#fff" stroke="#1c1c1c" stroke-width="0.6"/>
<path d="M566.4,109.5 L575,111.2" fill="none" stroke="#1c1c1c" stroke-width="1"/>
<line x1="532.90" y1="75.60" x2="531.00" y2="79.50" stroke="#151515" stroke-width="1.9"/><circle cx="532.90" cy="75.60" r="2.85" fill="#c6e4f0" stroke="#1c242a" stroke-width="0.85"/>
<line x1="538.70" y1="80.60" x2="539.50" y2="85.00" stroke="#151515" stroke-width="1.9"/><circle cx="538.70" cy="80.60" r="2.85" fill="#c6e4f0" stroke="#1c242a" stroke-width="0.85"/>
<line x1="545.10" y1="82.00" x2="545.60" y2="86.50" stroke="#151515" stroke-width="1.9"/><circle cx="545.10" cy="82.00" r="2.85" fill="#c6e4f0" stroke="#1c242a" stroke-width="0.85"/>
<line x1="552.30" y1="81.00" x2="552.20" y2="85.50" stroke="#151515" stroke-width="1.9"/><circle cx="552.30" cy="81.00" r="2.85" fill="#c6e4f0" stroke="#1c242a" stroke-width="0.85"/>
<line x1="559.30" y1="82.80" x2="558.30" y2="87.00" stroke="#151515" stroke-width="1.9"/><circle cx="559.30" cy="82.80" r="2.85" fill="#c6e4f0" stroke="#1c242a" stroke-width="0.85"/>
<line x1="566.10" y1="86.40" x2="564.00" y2="90.50" stroke="#151515" stroke-width="1.9"/><circle cx="566.10" cy="86.40" r="2.85" fill="#c6e4f0" stroke="#1c242a" stroke-width="0.85"/>
<line x1="571.30" y1="91.90" x2="568.50" y2="95.00" stroke="#151515" stroke-width="1.9"/><circle cx="571.30" cy="91.90" r="2.85" fill="#c6e4f0" stroke="#1c242a" stroke-width="0.85"/>
<line x1="575.30" y1="96.30" x2="571.50" y2="99.00" stroke="#151515" stroke-width="1.9"/><circle cx="575.30" cy="96.30" r="2.85" fill="#c6e4f0" stroke="#1c242a" stroke-width="0.85"/>
<line x1="577.60" y1="102.00" x2="573.50" y2="103.50" stroke="#151515" stroke-width="1.9"/><circle cx="577.60" cy="102.00" r="2.85" fill="#c6e4f0" stroke="#1c242a" stroke-width="0.85"/>
<line x1="578.00" y1="107.70" x2="574.00" y2="108.00" stroke="#151515" stroke-width="1.9"/><circle cx="578.00" cy="107.70" r="2.85" fill="#c6e4f0" stroke="#1c242a" stroke-width="0.85"/>
<path d="M-4.5,0 Q0,-2.8499999999999996 4.5,0 Q0,2.8499999999999996 -4.5,0Z" fill="#f6a31d" stroke="#4a2a06" stroke-width="0.55" transform="translate(547.70,98.40) rotate(123)"/>
<path d="M-4.5,0 Q0,-2.8499999999999996 4.5,0 Q0,2.8499999999999996 -4.5,0Z" fill="#f6a31d" stroke="#4a2a06" stroke-width="0.55" transform="translate(550.50,100.70) rotate(140)"/>
<path d="M-5.15,0 Q0,-2.8499999999999996 5.15,0 Q0,2.8499999999999996 -5.15,0Z" fill="#f6a31d" stroke="#4a2a06" stroke-width="0.55" transform="translate(554.30,103.80) rotate(158)"/>
<path d="M-5.0,0 Q0,-2.8499999999999996 5.0,0 Q0,2.8499999999999996 -5.0,0Z" fill="#f6a31d" stroke="#4a2a06" stroke-width="0.55" transform="translate(559.30,107.50) rotate(176)"/>
<circle cx="551.50" cy="92.80" r="2.35" fill="#e8522b" stroke="#4a1a0c" stroke-width="0.6"/>
<circle cx="555.90" cy="95.90" r="2.35" fill="#e8522b" stroke="#4a1a0c" stroke-width="0.6"/>
<circle cx="561.80" cy="100.70" r="2.35" fill="#e8522b" stroke="#4a1a0c" stroke-width="0.6"/>
<circle cx="566.40" cy="106.80" r="2.35" fill="#e8522b" stroke="#4a1a0c" stroke-width="0.6"/>
<circle cx="541.7" cy="106.1" r="1.4" fill="#1f8a3c" stroke="#0d4a1c" stroke-width="0.35"/>
<circle cx="544.8" cy="107.7" r="1.4" fill="#1f8a3c" stroke="#0d4a1c" stroke-width="0.35"/>
<circle cx="547.1" cy="110.2" r="1.4" fill="#1f8a3c" stroke="#0d4a1c" stroke-width="0.35"/>
<path d="M534.9,101.4 C538,100.8 541,100.6 543.1,102 C545.5,103.6 547,106 549.2,107.5 C551,108.8 552.8,109.8 554.6,110.2 C556.5,110.6 558,110.5 560,110.4" fill="none" stroke="#6cb52d" stroke-width="3.3" stroke-linecap="round"/>
<path d="M-7.4,0 Q0,-3.8 7.4,0 Q0,3.8 -7.4,0Z" fill="#f6a31d" stroke="#4a2a06" stroke-width="0.55" transform="translate(615.50,203.90) rotate(-27)"/>
<path d="M-7.75,0 Q0,-3.8 7.75,0 Q0,3.8 -7.75,0Z" fill="#f6a31d" stroke="#4a2a06" stroke-width="0.55" transform="translate(617.40,208.10) rotate(-11)"/>
<path d="M-8.35,0 Q0,-3.8 8.35,0 Q0,3.8 -8.35,0Z" fill="#f6a31d" stroke="#4a2a06" stroke-width="0.55" transform="translate(621.30,214.60) rotate(0)"/>
<path d="M-8.2,0 Q0,-3.8 8.2,0 Q0,3.8 -8.2,0Z" fill="#f6a31d" stroke="#4a2a06" stroke-width="0.55" transform="translate(623.10,223.10) rotate(13)"/>
<circle cx="624.80" cy="198.00" r="3.7" fill="#e8522b" stroke="#4a1a0c" stroke-width="0.6"/>
<circle cx="628.90" cy="205.00" r="3.7" fill="#e8522b" stroke="#4a1a0c" stroke-width="0.6"/>
<circle cx="633.50" cy="214.60" r="3.7" fill="#e8522b" stroke="#4a1a0c" stroke-width="0.6"/>
<circle cx="634.90" cy="225.90" r="3.7" fill="#e8522b" stroke="#4a1a0c" stroke-width="0.6"/>
<circle cx="601.3" cy="211.5" r="2.2" fill="#1f8a3c" stroke="#0d4a1c" stroke-width="0.35"/>
<circle cx="604.8" cy="214.3" r="2.2" fill="#1f8a3c" stroke="#0d4a1c" stroke-width="0.35"/>
<circle cx="605.9" cy="219.7" r="2.2" fill="#1f8a3c" stroke="#0d4a1c" stroke-width="0.35"/>
<circle cx="600.5" cy="213.8" r="2.2" fill="#1f8a3c" stroke="#0d4a1c" stroke-width="0.35"/>
<path d="M596.2,201.9 C599.5,202.5 603,203.5 605.2,205.7 C607.5,208 608.5,211.5 609.8,214.3 C611.2,217.5 613,221 615.2,223.6 C617,225.5 620,226.5 622.7,227" fill="none" stroke="#6cb52d" stroke-width="4.3" stroke-linecap="round"/>
<ellipse cx="483.1" cy="281.7" rx="3.6" ry="2.3" fill="#1f8a3c" stroke="#0d4a1c" stroke-width="0.3"/>
<ellipse cx="490.8" cy="281.7" rx="3.6" ry="2.3" fill="#1f8a3c" stroke="#0d4a1c" stroke-width="0.3"/>
<path d="M0,-8.6 C4.4,-4 4.4,4 0,8.6 C-4.4,4 -4.4,-4 0,-8.6Z" transform="translate(490.8,266.7)" fill="#f6a31d" stroke="#3a2a08" stroke-width="0.7"/>
<path d="M0,-8.6 C4.4,-4 4.4,4 0,8.6 C-4.4,4 -4.4,-4 0,-8.6Z" transform="translate(483.1,266.4)" fill="#f6a31d" stroke="#3a2a08" stroke-width="0.7"/>
<ellipse cx="492.1" cy="254.3" rx="4.9" ry="3.9" fill="#e8522b" stroke="#5a2010" stroke-width="0.6"/>
<ellipse cx="483.3" cy="253.7" rx="5.4" ry="3.9" fill="#e8522b" stroke="#5a2010" stroke-width="0.6"/>
<path d="M437,286.2 C440,284 443.5,281.5 447.1,279.6 C450.5,277.5 454,275.3 457.9,274.9 C462,274.5 466,275 470.3,275.4 C474,275.8 477.5,277 481.2,276.9 C485,276.8 488.5,275 492.1,273.4 C497,271 501.5,267.3 506,264" fill="none" stroke="#74ba2e" stroke-width="2.5" stroke-linecap="round"/>
<path d="M440.9,289.3 C444,287 447,284.7 450.2,282.7 C453,281 456,278.5 459.5,278 C463,277.5 466.5,277.4 470.3,277.7 C474.5,278 478.5,279 482.8,278.8 C487,278.6 491.5,276.8 495.2,274.9 C500,272.5 504.5,270 509.1,267.2" fill="none" stroke="#74ba2e" stroke-width="2.5" stroke-linecap="round"/>
<ellipse cx="535" cy="375.8" rx="4.6" ry="4" fill="#1f8a3c" stroke="#0a3012" stroke-width="0.9"/>
<ellipse cx="535" cy="367.6" rx="4.6" ry="4" fill="#6cb52d" stroke="#1e4a10" stroke-width="0.9"/>
<ellipse cx="535" cy="350" rx="4.7" ry="13" fill="#f6a31d" stroke="#3a2808" stroke-width="0.9"/>
<ellipse cx="535" cy="330" rx="7.7" ry="6.5" fill="#e8522b" stroke="#3a180c" stroke-width="0.9"/>
<text x="545.5" y="337" font-size="14" font-weight="bold" fill="#231f20" stroke="#231f20" stroke-width="0.4" text-anchor="start" textLength="15.5" lengthAdjust="spacingAndGlyphs" >MA</text>
<text x="547" y="354.5" font-size="14" font-weight="bold" fill="#231f20" stroke="#231f20" stroke-width="0.4" text-anchor="start" textLength="12.5" lengthAdjust="spacingAndGlyphs" >CA</text>
<text x="547" y="374.5" font-size="14" font-weight="bold" fill="#231f20" stroke="#231f20" stroke-width="0.4" text-anchor="start" textLength="13" lengthAdjust="spacingAndGlyphs" >NC</text>
<text x="547" y="388.5" font-size="14" font-weight="bold" fill="#231f20" stroke="#231f20" stroke-width="0.4" text-anchor="start" textLength="12" lengthAdjust="spacingAndGlyphs" >p6</text>
<line x1="527.50" y1="317.50" x2="517.10" y2="307.10" stroke="#1a1a1a" stroke-width="1.0"/><polygon points="512.50,302.50 520.35,305.26 515.26,310.35" fill="#1a1a1a"/>
<line x1="516.00" y1="259.50" x2="589.06" y2="226.95" stroke="#1a1a1a" stroke-width="1.0"/><polygon points="595.00,224.30 589.61,230.64 586.68,224.06" fill="#1a1a1a"/>
<line x1="427.50" y1="270.00" x2="407.74" y2="259.54" stroke="#1a1a1a" stroke-width="1.0"/><polygon points="402.00,256.50 410.31,256.83 406.94,263.19" fill="#1a1a1a"/>
<line x1="590.00" y1="208.75" x2="518.51" y2="179.46" stroke="#1a1a1a" stroke-width="1.0"/><polygon points="512.50,177.00 520.80,176.51 518.08,183.17" fill="#1a1a1a"/>
<line x1="595.00" y1="192.50" x2="561.86" y2="131.71" stroke="#1a1a1a" stroke-width="1.0"/><polygon points="558.75,126.00 565.50,130.86 559.18,134.31" fill="#1a1a1a"/>
<line x1="449.00" y1="162.50" x2="387.71" y2="143.43" stroke="#1a1a1a" stroke-width="1.0"/><polygon points="381.50,141.50 389.73,140.29 387.59,147.17" fill="#1a1a1a"/>
<line x1="365.70" y1="210.60" x2="352.58" y2="177.35" stroke="#1a1a1a" stroke-width="1.0"/><polygon points="350.20,171.30 356.30,176.96 349.60,179.60" fill="#1a1a1a"/>
<line x1="240.00" y1="130.00" x2="215.45" y2="133.17" stroke="#1a1a1a" stroke-width="1.0"/><polygon points="209.00,134.00 215.98,129.47 216.90,136.61" fill="#1a1a1a"/>
<line x1="297.50" y1="349.25" x2="320.25" y2="349.25" stroke="#4547a3" stroke-width="1.5"/><polygon points="328.75,349.25 319.25,353.25 319.25,345.25" fill="#4547a3"/>
<line x1="358.00" y1="333.75" x2="369.34" y2="299.32" stroke="#4547a3" stroke-width="1.5"/><polygon points="372.00,291.25 372.83,301.52 365.23,299.02" fill="#4547a3"/>
<line x1="486.50" y1="67.50" x2="486.50" y2="129.30" stroke="#4547a3" stroke-width="1.3"/><polygon points="486.50,137.80 482.50,128.30 490.50,128.30" fill="#4547a3"/>
<line x1="480.70" y1="458.80" x2="382.33" y2="370.77" stroke="#4547a3" stroke-width="1.5"/><polygon points="376.00,365.10 385.75,368.45 380.41,374.42" fill="#4547a3"/>
<line x1="365.10" y1="380.50" x2="448.36" y2="462.82" stroke="#4547a3" stroke-width="1.5"/><polygon points="454.40,468.80 444.83,464.96 450.46,459.28" fill="#4547a3"/>
<circle cx="479.8" cy="327.4" r="9.8" fill="#fff" stroke="#9c9c9c" stroke-width="0.8"/><text x="479.8" y="332.2" text-anchor="middle" font-size="13.5" font-weight="bold" fill="#1a1a1a" stroke="#1a1a1a" stroke-width="0.25" textLength="5.4" lengthAdjust="spacingAndGlyphs">1</text>
<circle cx="601.5" cy="242.4" r="9.8" fill="#fff" stroke="#9c9c9c" stroke-width="0.8"/><text x="601.5" y="247.20000000000002" text-anchor="middle" font-size="13.5" font-weight="bold" fill="#1a1a1a" stroke="#1a1a1a" stroke-width="0.25" textLength="5.4" lengthAdjust="spacingAndGlyphs">2</text>
<circle cx="402.8" cy="286.1" r="9.8" fill="#fff" stroke="#9c9c9c" stroke-width="0.8"/><text x="402.8" y="290.90000000000003" text-anchor="middle" font-size="13.5" font-weight="bold" fill="#1a1a1a" stroke="#1a1a1a" stroke-width="0.25" textLength="5.4" lengthAdjust="spacingAndGlyphs">3</text>
<circle cx="355.7" cy="424.6" r="9.8" fill="#fff" stroke="#9c9c9c" stroke-width="0.8"/><text x="355.7" y="429.40000000000003" text-anchor="middle" font-size="13.5" font-weight="bold" fill="#1a1a1a" stroke="#1a1a1a" stroke-width="0.25" textLength="5.4" lengthAdjust="spacingAndGlyphs">4</text>
<circle cx="464.7" cy="111.5" r="9.8" fill="#fff" stroke="#9c9c9c" stroke-width="0.8"/><text x="464.7" y="116.3" text-anchor="middle" font-size="13.5" font-weight="bold" fill="#1a1a1a" stroke="#1a1a1a" stroke-width="0.25" textLength="5.4" lengthAdjust="spacingAndGlyphs">5</text>
<circle cx="420.4" cy="366.1" r="9.8" fill="#fff" stroke="#9c9c9c" stroke-width="0.8"/><text x="420.4" y="370.90000000000003" text-anchor="middle" font-size="13.5" font-weight="bold" fill="#1a1a1a" stroke="#1a1a1a" stroke-width="0.25" textLength="5.4" lengthAdjust="spacingAndGlyphs">6</text>
<circle cx="536.4" cy="128.3" r="9.8" fill="#fff" stroke="#9c9c9c" stroke-width="0.8"/><text x="536.4" y="133.10000000000002" text-anchor="middle" font-size="13.5" font-weight="bold" fill="#1a1a1a" stroke="#1a1a1a" stroke-width="0.25" textLength="5.4" lengthAdjust="spacingAndGlyphs">7</text>
<circle cx="386.4" cy="103.8" r="9.8" fill="#fff" stroke="#9c9c9c" stroke-width="0.8"/><text x="386.4" y="108.6" text-anchor="middle" font-size="13.5" font-weight="bold" fill="#1a1a1a" stroke="#1a1a1a" stroke-width="0.25" textLength="5.4" lengthAdjust="spacingAndGlyphs">8</text>
<circle cx="198.4" cy="103.8" r="9.8" fill="#fff" stroke="#9c9c9c" stroke-width="0.8"/><text x="198.4" y="108.6" text-anchor="middle" font-size="13.5" font-weight="bold" fill="#1a1a1a" stroke="#1a1a1a" stroke-width="0.25" textLength="5.4" lengthAdjust="spacingAndGlyphs">9</text>
<text x="455.5" y="34" font-size="14" font-weight="bold" fill="#1b75bb" stroke="#1b75bb" stroke-width="0.4" text-anchor="start" textLength="228" lengthAdjust="spacingAndGlyphs" >Bourgeonnement à la membrane plasmique</text>
<text x="52.5" y="113" font-size="14" font-weight="bold" fill="#1b75bb" stroke="#1b75bb" stroke-width="0.4" text-anchor="start" textLength="52.5" lengthAdjust="spacingAndGlyphs" >Exocytose</text>
<text x="257.5" y="65" font-size="14" font-weight="bold" fill="#231f20" stroke="#231f20" stroke-width="0.4" text-anchor="start" textLength="113.5" lengthAdjust="spacingAndGlyphs" >Assemblage du VIH-1</text>
<text x="243" y="79.5" font-size="14" font-weight="bold" fill="#231f20" stroke="#231f20" stroke-width="0.4" text-anchor="start" textLength="143" lengthAdjust="spacingAndGlyphs" >dans les endosomes tardifs</text>
<text x="250" y="186" font-size="14" font-weight="bold" fill="#231f20" stroke="#231f20" stroke-width="0.4" text-anchor="start" textLength="97.5" lengthAdjust="spacingAndGlyphs" >Endosomes tardifs</text>
<text x="443" y="220" font-size="14" font-weight="bold" fill="#231f20" stroke="#231f20" stroke-width="0.4" text-anchor="start" textLength="107.5" lengthAdjust="spacingAndGlyphs" >Endosomes précoces</text>
<text x="456" y="234.5" font-size="14" font-weight="bold" fill="#231f20" stroke="#231f20" stroke-width="0.4" text-anchor="start" textLength="81" lengthAdjust="spacingAndGlyphs" >ou de recyclage</text>
<text x="447.5" y="297.5" font-size="13" font-weight="normal" fill="#6b8b5e" stroke="#6b8b5e" stroke-width="0.2" text-anchor="start" textLength="57" lengthAdjust="spacingAndGlyphs" >Complexes</text>
<text x="452.5" y="313" font-size="13" font-weight="normal" fill="#6b8b5e" stroke="#6b8b5e" stroke-width="0.2" text-anchor="start" textLength="47.5" lengthAdjust="spacingAndGlyphs" >Gag-ARN</text>
<text x="487.7" y="454" font-size="13.5" font-weight="normal" fill="#1b75bb" stroke="#1b75bb" stroke-width="0.45" text-anchor="start" textLength="17" lengthAdjust="spacingAndGlyphs" >Env</text>
<g transform="translate(417.6,391.2) rotate(44.2)"><text x="0" y="0" font-size="13" font-weight="normal" fill="#5b5daf" stroke="#5b5daf" stroke-width="0.2" text-anchor="start" textLength="53.5" lengthAdjust="spacingAndGlyphs" >Recyclage</text></g>
<g transform="translate(358,396.2) rotate(44.7)"><text x="0" y="0" font-size="13" font-weight="normal" fill="#5b5daf" stroke="#5b5daf" stroke-width="0.2" text-anchor="start" textLength="118" lengthAdjust="spacingAndGlyphs" >Sécrétion constitutive</text></g>
<g transform="translate(370.3,193.3) rotate(69)"><text x="0" y="4.2" font-size="12" font-weight="bold" fill="#f0895a" stroke="#f0895a" stroke-width="0" text-anchor="middle" textLength="33" lengthAdjust="spacingAndGlyphs" >ESCRT</text></g>
<g transform="translate(569.7,169.7) rotate(69.6)"><text x="0" y="4.2" font-size="12" font-weight="bold" fill="#f0895a" stroke="#f0895a" stroke-width="0" text-anchor="middle" textLength="34" lengthAdjust="spacingAndGlyphs" >ESCRT</text></g>
</svg></body></html>
